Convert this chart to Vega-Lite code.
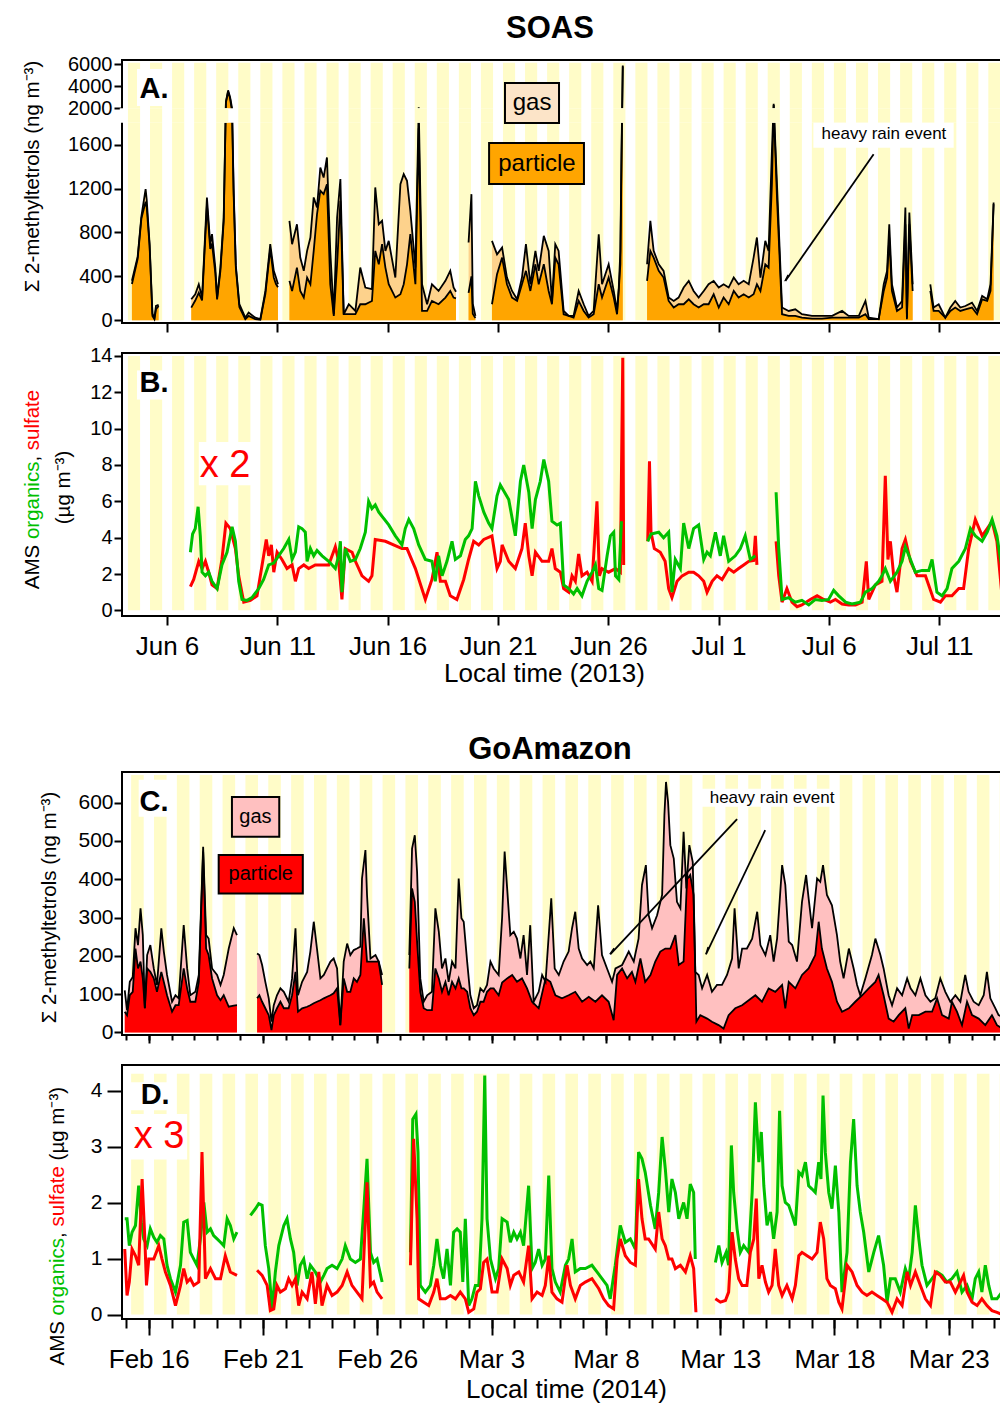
{
"$schema": "https://vega.github.io/schema/vega-lite/v6.json",
"background": "white",
"padding": {"left": 20, "top": 12, "right": 0, "bottom": 0},
"config": {
  "font": "Liberation Sans",
  "view": {"stroke": "black", "strokeWidth": 2},
  "axis": {"domain": false, "grid": false, "tickColor": "black", "tickWidth": 2, "labelColor": "black", "titleColor": "black", "titleFontWeight": "normal", "labelFont": "Liberation Sans", "titleFont": "Liberation Sans"},
  "title": {"font": "Liberation Sans", "fontWeight": "bold", "fontSize": 31, "color": "black"}
},
"datasets": {
"soasDays": [{"rise":-1.77,"set":-1.22},{"rise":-0.77,"set":-0.22},{"rise":0.23,"set":0.78},{"rise":1.23,"set":1.78},{"rise":2.23,"set":2.78},{"rise":3.23,"set":3.78},{"rise":4.23,"set":4.78},{"rise":5.23,"set":5.78},{"rise":6.23,"set":6.78},{"rise":7.23,"set":7.78},{"rise":8.23,"set":8.78},{"rise":9.23,"set":9.78},{"rise":10.23,"set":10.78},{"rise":11.23,"set":11.78},{"rise":12.23,"set":12.78},{"rise":13.23,"set":13.78},{"rise":14.23,"set":14.78},{"rise":15.23,"set":15.78},{"rise":16.23,"set":16.78},{"rise":17.23,"set":17.78},{"rise":18.23,"set":18.78},{"rise":19.23,"set":19.78},{"rise":20.23,"set":20.78},{"rise":21.23,"set":21.78},{"rise":22.23,"set":22.78},{"rise":23.23,"set":23.78},{"rise":24.23,"set":24.78},{"rise":25.23,"set":25.78},{"rise":26.23,"set":26.78},{"rise":27.23,"set":27.78},{"rise":28.23,"set":28.78},{"rise":29.23,"set":29.78},{"rise":30.23,"set":30.78},{"rise":31.23,"set":31.78},{"rise":32.23,"set":32.78},{"rise":33.23,"set":33.78},{"rise":34.23,"set":34.78},{"rise":35.23,"set":35.78},{"rise":36.23,"set":36.78},{"rise":37.23,"set":37.78}],
"goaDays": [{"rise":-0.77,"set":-0.22},{"rise":0.23,"set":0.78},{"rise":1.23,"set":1.78},{"rise":2.23,"set":2.78},{"rise":3.23,"set":3.78},{"rise":4.23,"set":4.78},{"rise":5.23,"set":5.78},{"rise":6.23,"set":6.78},{"rise":7.23,"set":7.78},{"rise":8.23,"set":8.78},{"rise":9.23,"set":9.78},{"rise":10.23,"set":10.78},{"rise":11.23,"set":11.78},{"rise":12.23,"set":12.78},{"rise":13.23,"set":13.78},{"rise":14.23,"set":14.78},{"rise":15.23,"set":15.78},{"rise":16.23,"set":16.78},{"rise":17.23,"set":17.78},{"rise":18.23,"set":18.78},{"rise":19.23,"set":19.78},{"rise":20.23,"set":20.78},{"rise":21.23,"set":21.78},{"rise":22.23,"set":22.78},{"rise":23.23,"set":23.78},{"rise":24.23,"set":24.78},{"rise":25.23,"set":25.78},{"rise":26.23,"set":26.78},{"rise":27.23,"set":27.78},{"rise":28.23,"set":28.78},{"rise":29.23,"set":29.78},{"rise":30.23,"set":30.78},{"rise":31.23,"set":31.78},{"rise":32.23,"set":32.78},{"rise":33.23,"set":33.78},{"rise":34.23,"set":34.78},{"rise":35.23,"set":35.78},{"rise":36.23,"set":36.78},{"rise":37.23,"set":37.78}],
"soasTetrols": [
{"day":-1.59,"total":360,"particle":330,"seg":1},{"day":-1.33,"total":580,"particle":560,"seg":1},{"day":-1.16,"total":950,"particle":930,"seg":1},{"day":-0.97,"total":1195,"particle":1080,"seg":1},{"day":-0.92,"total":1100,"particle":1030,"seg":1},{"day":-0.79,"total":700,"particle":680,"seg":1},{"day":-0.66,"total":60,"particle":40,"seg":1},{"day":-0.57,"total":20,"particle":10,"seg":1},{"day":-0.5,"total":130,"particle":100,"seg":1},{"day":-0.38,"total":140,"particle":130,"seg":1},
{"day":1.1,"total":191,"particle":115,"seg":2},{"day":1.28,"total":237,"particle":180,"seg":2},{"day":1.44,"total":328,"particle":250,"seg":2},{"day":1.59,"total":207,"particle":180,"seg":2},{"day":1.81,"total":1119,"particle":1050,"seg":2},{"day":1.96,"total":693,"particle":650,"seg":2},{"day":2.04,"total":784,"particle":700,"seg":2},{"day":2.19,"total":480,"particle":430,"seg":2},{"day":2.27,"total":207,"particle":190,"seg":2},{"day":2.42,"total":480,"particle":450,"seg":2},{"day":2.57,"total":936,"particle":900,"seg":2},{"day":2.67,"total":2600,"particle":2500,"seg":2},{"day":2.77,"total":3636,"particle":3500,"seg":2},{"day":2.86,"total":3000,"particle":2900,"seg":2},{"day":2.95,"total":2000,"particle":1950,"seg":2},{"day":3.02,"total":1200,"particle":1150,"seg":2},{"day":3.12,"total":500,"particle":480,"seg":2},{"day":3.28,"total":146,"particle":120,"seg":2},{"day":3.55,"total":24,"particle":10,"seg":2},{"day":3.7,"total":70,"particle":40,"seg":2},{"day":4.0,"total":24,"particle":10,"seg":2},{"day":4.23,"total":10,"particle":5,"seg":2},{"day":4.46,"total":267,"particle":240,"seg":2},{"day":4.68,"total":693,"particle":650,"seg":2},{"day":4.84,"total":450,"particle":390,"seg":2},{"day":4.94,"total":390,"particle":330,"seg":2},{"day":5.03,"total":328,"particle":300,"seg":2},
{"day":5.55,"total":906,"particle":359,"seg":3},{"day":5.67,"total":693,"particle":267,"seg":3},{"day":5.89,"total":875,"particle":480,"seg":3},{"day":6.04,"total":571,"particle":267,"seg":3},{"day":6.2,"total":450,"particle":207,"seg":3},{"day":6.35,"total":632,"particle":389,"seg":3},{"day":6.5,"total":754,"particle":328,"seg":3},{"day":6.65,"total":1119,"particle":632,"seg":3},{"day":6.8,"total":1027,"particle":967,"seg":3},{"day":6.95,"total":1392,"particle":1180,"seg":3},{"day":7.1,"total":1300,"particle":1150,"seg":3},{"day":7.25,"total":1483,"particle":1240,"seg":3},{"day":7.4,"total":632,"particle":328,"seg":3},{"day":7.56,"total":55,"particle":40,"seg":3},{"day":7.71,"total":936,"particle":510,"seg":3},{"day":7.86,"total":1286,"particle":1088,"seg":3},{"day":8.01,"total":55,"particle":55,"seg":3},{"day":8.24,"total":146,"particle":55,"seg":3},{"day":8.54,"total":85,"particle":55,"seg":3},{"day":8.76,"total":480,"particle":146,"seg":3},{"day":8.99,"total":298,"particle":146,"seg":3},{"day":9.29,"total":283,"particle":176,"seg":3},{"day":9.44,"total":1210,"particle":632,"seg":3},{"day":9.6,"total":875,"particle":510,"seg":3},{"day":9.75,"total":906,"particle":693,"seg":3},{"day":9.9,"total":632,"particle":480,"seg":3},{"day":10.05,"total":723,"particle":328,"seg":3},{"day":10.35,"total":389,"particle":207,"seg":3},{"day":10.58,"total":1240,"particle":237,"seg":3},{"day":10.73,"total":1331,"particle":328,"seg":3},{"day":10.88,"total":1270,"particle":510,"seg":3},{"day":11.03,"total":997,"particle":784,"seg":3},{"day":11.26,"total":480,"particle":328,"seg":3},{"day":11.41,"total":2100,"particle":1750,"seg":3},{"day":11.56,"total":328,"particle":85,"seg":3},{"day":11.79,"total":146,"particle":85,"seg":3},{"day":12.01,"total":328,"particle":176,"seg":3},{"day":12.31,"total":267,"particle":146,"seg":3},{"day":12.62,"total":359,"particle":207,"seg":3},{"day":12.84,"total":450,"particle":267,"seg":3},{"day":12.99,"total":298,"particle":207,"seg":3},{"day":13.1,"total":260,"particle":200,"seg":3},
{"day":13.67,"total":708,"particle":250,"seg":4},{"day":13.8,"total":1149,"particle":400,"seg":4},{"day":13.86,"total":150,"particle":60,"seg":4},{"day":13.98,"total":40,"particle":20,"seg":4},
{"day":14.73,"total":723,"particle":146,"seg":5},{"day":14.96,"total":600,"particle":420,"seg":5},{"day":15.19,"total":662,"particle":571,"seg":5},{"day":15.41,"total":389,"particle":328,"seg":5},{"day":15.64,"total":267,"particle":207,"seg":5},{"day":15.87,"total":191,"particle":176,"seg":5},{"day":16.09,"total":389,"particle":328,"seg":5},{"day":16.27,"total":693,"particle":450,"seg":5},{"day":16.47,"total":328,"particle":267,"seg":5},{"day":16.7,"total":632,"particle":510,"seg":5},{"day":16.85,"total":450,"particle":328,"seg":5},{"day":17.08,"total":769,"particle":510,"seg":5},{"day":17.3,"total":632,"particle":267,"seg":5},{"day":17.45,"total":176,"particle":146,"seg":5},{"day":17.6,"total":693,"particle":571,"seg":5},{"day":17.75,"total":632,"particle":510,"seg":5},{"day":17.98,"total":85,"particle":55,"seg":5},{"day":18.21,"total":40,"particle":40,"seg":5},{"day":18.43,"total":40,"particle":24,"seg":5},{"day":18.66,"total":267,"particle":176,"seg":5},{"day":18.89,"total":146,"particle":85,"seg":5},{"day":19.11,"total":40,"particle":24,"seg":5},{"day":19.34,"total":85,"particle":55,"seg":5},{"day":19.57,"total":784,"particle":328,"seg":5},{"day":19.72,"total":328,"particle":207,"seg":5},{"day":20.02,"total":510,"particle":389,"seg":5},{"day":20.25,"total":267,"particle":207,"seg":5},{"day":20.4,"total":85,"particle":55,"seg":5},{"day":20.48,"total":300,"particle":280,"seg":5},{"day":20.55,"total":632,"particle":510,"seg":5},{"day":20.6,"total":1500,"particle":1400,"seg":5},{"day":20.66,"total":5900,"particle":5800,"seg":5},
{"day":21.76,"total":510,"particle":359,"seg":6},{"day":21.91,"total":906,"particle":632,"seg":6},{"day":22.06,"total":632,"particle":571,"seg":6},{"day":22.29,"total":510,"particle":450,"seg":6},{"day":22.51,"total":450,"particle":389,"seg":6},{"day":22.74,"total":207,"particle":176,"seg":6},{"day":22.97,"total":176,"particle":116,"seg":6},{"day":23.19,"total":207,"particle":146,"seg":6},{"day":23.42,"total":298,"particle":146,"seg":6},{"day":23.65,"total":359,"particle":191,"seg":6},{"day":23.87,"total":267,"particle":146,"seg":6},{"day":24.1,"total":207,"particle":116,"seg":6},{"day":24.33,"total":267,"particle":146,"seg":6},{"day":24.55,"total":328,"particle":146,"seg":6},{"day":24.78,"total":359,"particle":237,"seg":6},{"day":25.01,"total":298,"particle":116,"seg":6},{"day":25.23,"total":328,"particle":207,"seg":6},{"day":25.46,"total":298,"particle":146,"seg":6},{"day":25.69,"total":389,"particle":267,"seg":6},{"day":25.91,"total":328,"particle":207,"seg":6},{"day":26.14,"total":359,"particle":237,"seg":6},{"day":26.37,"total":328,"particle":207,"seg":6},{"day":26.59,"total":571,"particle":237,"seg":6},{"day":26.74,"total":754,"particle":328,"seg":6},{"day":26.9,"total":389,"particle":267,"seg":6},{"day":27.12,"total":723,"particle":510,"seg":6},{"day":27.27,"total":632,"particle":480,"seg":6},{"day":27.42,"total":1543,"particle":1240,"seg":6},{"day":27.5,"total":2400,"particle":2300,"seg":6},{"day":27.65,"total":1240,"particle":1119,"seg":6},{"day":27.88,"total":116,"particle":55,"seg":6},{"day":28.18,"total":85,"particle":40,"seg":6},{"day":28.48,"total":100,"particle":40,"seg":6},{"day":28.78,"total":55,"particle":24,"seg":6},{"day":29.24,"total":40,"particle":15,"seg":6},{"day":29.69,"total":40,"particle":15,"seg":6},{"day":30.15,"total":40,"particle":24,"seg":6},{"day":30.6,"total":85,"particle":24,"seg":6},{"day":30.9,"total":40,"particle":24,"seg":6},{"day":31.36,"total":40,"particle":24,"seg":6},{"day":31.66,"total":176,"particle":55,"seg":6},{"day":31.81,"total":24,"particle":10,"seg":6},{"day":32.26,"total":10,"particle":10,"seg":6},{"day":32.49,"total":328,"particle":267,"seg":6},{"day":32.64,"total":450,"particle":389,"seg":6},{"day":32.74,"total":875,"particle":754,"seg":6},{"day":32.86,"total":328,"particle":267,"seg":6},{"day":33.09,"total":116,"particle":85,"seg":6},{"day":33.32,"total":176,"particle":116,"seg":6},{"day":33.47,"total":1027,"particle":875,"seg":6},{"day":33.54,"total":24,"particle":10,"seg":6},{"day":33.65,"total":982,"particle":875,"seg":6},{"day":33.8,"total":328,"particle":267,"seg":6},
{"day":34.6,"total":328,"particle":267,"seg":7},{"day":34.75,"total":116,"particle":85,"seg":7},{"day":34.98,"total":146,"particle":85,"seg":7},{"day":35.28,"total":24,"particle":24,"seg":7},{"day":35.51,"total":116,"particle":85,"seg":7},{"day":35.73,"total":176,"particle":116,"seg":7},{"day":35.96,"total":116,"particle":85,"seg":7},{"day":36.19,"total":130,"particle":100,"seg":7},{"day":36.49,"total":161,"particle":116,"seg":7},{"day":36.72,"total":85,"particle":55,"seg":7},{"day":36.95,"total":222,"particle":191,"seg":7},{"day":37.18,"total":191,"particle":176,"seg":7},{"day":37.33,"total":328,"particle":267,"seg":7},{"day":37.47,"total":1073,"particle":1058,"seg":7}],
"soasOrganics": [
{"day":1.06,"conc":3.2,"seg":1},{"day":1.16,"conc":4.2,"seg":1},{"day":1.28,"conc":4.5,"seg":1},{"day":1.41,"conc":5.7,"seg":1},{"day":1.51,"conc":4.1,"seg":1},{"day":1.59,"conc":2.1,"seg":1},{"day":1.74,"conc":1.9,"seg":1},{"day":1.89,"conc":2.1,"seg":1},{"day":2.04,"conc":1.6,"seg":1},{"day":2.27,"conc":1.2,"seg":1},{"day":2.49,"conc":2.5,"seg":1},{"day":2.72,"conc":3.2,"seg":1},{"day":2.95,"conc":4.6,"seg":1},{"day":3.1,"conc":3.8,"seg":1},{"day":3.25,"conc":1.6,"seg":1},{"day":3.4,"conc":0.6,"seg":1},{"day":3.63,"conc":0.55,"seg":1},{"day":3.85,"conc":0.7,"seg":1},{"day":4.16,"conc":1.2,"seg":1},{"day":4.38,"conc":1.7,"seg":1},{"day":4.61,"conc":2.5,"seg":1},{"day":4.84,"conc":2.6,"seg":1},{"day":5.06,"conc":3.0,"seg":1},{"day":5.29,"conc":3.4,"seg":1},{"day":5.52,"conc":3.9,"seg":1},{"day":5.67,"conc":2.8,"seg":1},{"day":5.82,"conc":3.2,"seg":1},{"day":5.97,"conc":4.6,"seg":1},{"day":6.12,"conc":4.5,"seg":1},{"day":6.27,"conc":4.3,"seg":1},{"day":6.35,"conc":2.7,"seg":1},{"day":6.5,"conc":3.4,"seg":1},{"day":6.65,"conc":3.0,"seg":1},{"day":6.8,"conc":3.3,"seg":1},{"day":7.03,"conc":3.0,"seg":1},{"day":7.33,"conc":2.7,"seg":1},{"day":7.63,"conc":2.3,"seg":1},{"day":7.78,"conc":3.0,"seg":1},{"day":7.86,"conc":3.8,"seg":1},{"day":7.93,"conc":1.0,"seg":1},{"day":8.08,"conc":3.4,"seg":1},{"day":8.31,"conc":2.7,"seg":1},{"day":8.54,"conc":2.8,"seg":1},{"day":8.76,"conc":3.4,"seg":1},{"day":8.99,"conc":4.3,"seg":1},{"day":9.14,"conc":6.0,"seg":1},{"day":9.29,"conc":5.6,"seg":1},{"day":9.44,"conc":5.8,"seg":1},{"day":9.6,"conc":5.4,"seg":1},{"day":10.05,"conc":4.7,"seg":1},{"day":10.35,"conc":4.1,"seg":1},{"day":10.65,"conc":3.6,"seg":1},{"day":10.8,"conc":4.5,"seg":1},{"day":10.96,"conc":5.0,"seg":1},{"day":11.18,"conc":4.5,"seg":1},{"day":11.41,"conc":3.6,"seg":1},{"day":11.71,"conc":2.8,"seg":1},{"day":12.01,"conc":2.7,"seg":1},{"day":12.16,"conc":1.6,"seg":1},{"day":12.31,"conc":3.0,"seg":1},{"day":12.47,"conc":1.9,"seg":1},{"day":12.69,"conc":2.7,"seg":1},{"day":12.92,"conc":3.8,"seg":1},{"day":13.07,"conc":2.8,"seg":1},{"day":13.3,"conc":3.0,"seg":1},{"day":13.52,"conc":3.9,"seg":1},{"day":13.67,"conc":4.1,"seg":1},{"day":13.83,"conc":4.5,"seg":1},{"day":13.98,"conc":7.1,"seg":1},{"day":14.13,"conc":6.3,"seg":1},{"day":14.36,"conc":5.4,"seg":1},{"day":14.58,"conc":4.8,"seg":1},{"day":14.73,"conc":4.5,"seg":1},{"day":14.96,"conc":6.3,"seg":1},{"day":15.11,"conc":6.9,"seg":1},{"day":15.49,"conc":6.1,"seg":1},{"day":15.79,"conc":4.1,"seg":1},{"day":16.02,"conc":7.1,"seg":1},{"day":16.17,"conc":8.0,"seg":1},{"day":16.4,"conc":6.5,"seg":1},{"day":16.55,"conc":4.5,"seg":1},{"day":16.7,"conc":6.1,"seg":1},{"day":16.92,"conc":7.1,"seg":1},{"day":17.08,"conc":8.3,"seg":1},{"day":17.3,"conc":7.1,"seg":1},{"day":17.45,"conc":4.9,"seg":1},{"day":17.68,"conc":4.7,"seg":1},{"day":17.83,"conc":4.8,"seg":1},{"day":17.98,"conc":1.4,"seg":1},{"day":18.21,"conc":1.2,"seg":1},{"day":18.43,"conc":0.9,"seg":1},{"day":18.59,"conc":1.2,"seg":1},{"day":18.81,"conc":0.8,"seg":1},{"day":19.04,"conc":1.6,"seg":1},{"day":19.27,"conc":2.1,"seg":1},{"day":19.42,"conc":2.5,"seg":1},{"day":19.57,"conc":1.2,"seg":1},{"day":19.72,"conc":1.1,"seg":1},{"day":19.95,"conc":3.0,"seg":1},{"day":20.1,"conc":4.1,"seg":1},{"day":20.25,"conc":4.3,"seg":1},{"day":20.33,"conc":1.9,"seg":1},{"day":20.48,"conc":1.7,"seg":1},{"day":20.6,"conc":4.9,"seg":1},
{"day":21.79,"conc":3.8,"seg":2},{"day":21.94,"conc":4.2,"seg":2},{"day":22.29,"conc":4.3,"seg":2},{"day":22.51,"conc":4.0,"seg":2},{"day":22.74,"conc":4.3,"seg":2},{"day":22.89,"conc":1.0,"seg":2},{"day":23.04,"conc":2.8,"seg":2},{"day":23.27,"conc":2.3,"seg":2},{"day":23.42,"conc":4.8,"seg":2},{"day":23.65,"conc":3.4,"seg":2},{"day":23.87,"conc":4.5,"seg":2},{"day":24.1,"conc":4.7,"seg":2},{"day":24.33,"conc":2.8,"seg":2},{"day":24.48,"conc":3.2,"seg":2},{"day":24.63,"conc":3.0,"seg":2},{"day":24.86,"conc":4.3,"seg":2},{"day":25.08,"conc":3.0,"seg":2},{"day":25.23,"conc":4.1,"seg":2},{"day":25.46,"conc":2.7,"seg":2},{"day":25.76,"conc":3.0,"seg":2},{"day":25.99,"conc":3.4,"seg":2},{"day":26.21,"conc":4.1,"seg":2},{"day":26.44,"conc":2.8,"seg":2},{"day":26.67,"conc":3.0,"seg":2},
{"day":27.61,"conc":6.5,"seg":3},{"day":27.73,"conc":3.4,"seg":3},{"day":27.88,"conc":0.6,"seg":3},{"day":28.18,"conc":0.7,"seg":3},{"day":28.48,"conc":0.45,"seg":3},{"day":28.78,"conc":0.55,"seg":3},{"day":29.09,"conc":0.3,"seg":3},{"day":29.39,"conc":0.6,"seg":3},{"day":29.69,"conc":0.55,"seg":3},{"day":29.99,"conc":0.6,"seg":3},{"day":30.22,"conc":1.1,"seg":3},{"day":30.45,"conc":0.8,"seg":3},{"day":30.76,"conc":0.45,"seg":3},{"day":31.05,"conc":0.35,"seg":3},{"day":31.43,"conc":0.45,"seg":3},{"day":31.66,"conc":1.0,"seg":3},{"day":31.96,"conc":1.2,"seg":3},{"day":32.26,"conc":1.6,"seg":3},{"day":32.41,"conc":1.9,"seg":3},{"day":32.56,"conc":2.3,"seg":3},{"day":32.79,"conc":1.6,"seg":3},{"day":33.09,"conc":2.1,"seg":3},{"day":33.32,"conc":2.7,"seg":3},{"day":33.47,"conc":3.5,"seg":3},{"day":33.7,"conc":2.8,"seg":3},{"day":33.92,"conc":2.1,"seg":3},{"day":34.23,"conc":2.2,"seg":3},{"day":34.53,"conc":2.2,"seg":3},{"day":34.68,"conc":2.8,"seg":3},{"day":34.9,"conc":1.0,"seg":3},{"day":35.13,"conc":0.8,"seg":3},{"day":35.36,"conc":1.2,"seg":3},{"day":35.58,"conc":2.3,"seg":3},{"day":35.89,"conc":2.7,"seg":3},{"day":36.19,"conc":3.4,"seg":3},{"day":36.42,"conc":4.5,"seg":3},{"day":36.64,"conc":4.1,"seg":3},{"day":36.95,"conc":3.8,"seg":3},{"day":37.18,"conc":4.3,"seg":3},{"day":37.4,"conc":5.0,"seg":3},{"day":37.62,"conc":4.1,"seg":3},{"day":37.85,"conc":2.3,"seg":3}],
"soasSulfate": [
{"day":1.06,"conc":1.3,"seg":1},{"day":1.21,"conc":1.7,"seg":1},{"day":1.44,"conc":2.7,"seg":1},{"day":1.59,"conc":2.3,"seg":1},{"day":1.74,"conc":2.7,"seg":1},{"day":1.89,"conc":2.1,"seg":1},{"day":2.04,"conc":1.4,"seg":1},{"day":2.27,"conc":1.2,"seg":1},{"day":2.49,"conc":2.8,"seg":1},{"day":2.67,"conc":4.8,"seg":1},{"day":2.87,"conc":4.5,"seg":1},{"day":3.1,"conc":3.4,"seg":1},{"day":3.25,"conc":1.9,"seg":1},{"day":3.48,"conc":0.45,"seg":1},{"day":3.78,"conc":0.55,"seg":1},{"day":4.08,"conc":0.8,"seg":1},{"day":4.38,"conc":3.0,"seg":1},{"day":4.5,"conc":3.9,"seg":1},{"day":4.61,"conc":3.0,"seg":1},{"day":4.73,"conc":3.6,"seg":1},{"day":4.84,"conc":2.1,"seg":1},{"day":4.99,"conc":3.2,"seg":1},{"day":5.21,"conc":2.8,"seg":1},{"day":5.44,"conc":2.3,"seg":1},{"day":5.67,"conc":2.5,"seg":1},{"day":5.82,"conc":1.6,"seg":1},{"day":5.97,"conc":2.3,"seg":1},{"day":6.2,"conc":2.5,"seg":1},{"day":6.42,"conc":2.3,"seg":1},{"day":6.72,"conc":2.5,"seg":1},{"day":7.03,"conc":2.5,"seg":1},{"day":7.33,"conc":2.5,"seg":1},{"day":7.63,"conc":3.5,"seg":1},{"day":7.78,"conc":2.7,"seg":1},{"day":7.93,"conc":0.6,"seg":1},{"day":8.08,"conc":3.4,"seg":1},{"day":8.39,"conc":3.2,"seg":1},{"day":8.54,"conc":2.7,"seg":1},{"day":8.84,"conc":1.9,"seg":1},{"day":9.14,"conc":1.6,"seg":1},{"day":9.29,"conc":1.9,"seg":1},{"day":9.44,"conc":3.9,"seg":1},{"day":9.9,"conc":3.8,"seg":1},{"day":10.65,"conc":3.4,"seg":1},{"day":10.88,"conc":3.4,"seg":1},{"day":11.26,"conc":2.3,"seg":1},{"day":11.71,"conc":0.6,"seg":1},{"day":12.01,"conc":1.7,"seg":1},{"day":12.24,"conc":3.2,"seg":1},{"day":12.39,"conc":1.6,"seg":1},{"day":12.62,"conc":1.6,"seg":1},{"day":12.84,"conc":0.8,"seg":1},{"day":13.14,"conc":0.6,"seg":1},{"day":13.45,"conc":1.7,"seg":1},{"day":13.67,"conc":2.8,"seg":1},{"day":13.9,"conc":3.8,"seg":1},{"day":14.13,"conc":3.6,"seg":1},{"day":14.36,"conc":3.9,"seg":1},{"day":14.73,"conc":4.1,"seg":1},{"day":14.96,"conc":2.3,"seg":1},{"day":15.11,"conc":2.7,"seg":1},{"day":15.19,"conc":3.6,"seg":1},{"day":15.49,"conc":2.7,"seg":1},{"day":15.79,"conc":2.3,"seg":1},{"day":16.09,"conc":3.4,"seg":1},{"day":16.24,"conc":4.8,"seg":1},{"day":16.4,"conc":3.0,"seg":1},{"day":16.55,"conc":1.9,"seg":1},{"day":16.7,"conc":3.2,"seg":1},{"day":17.0,"conc":2.7,"seg":1},{"day":17.3,"conc":2.7,"seg":1},{"day":17.45,"conc":3.4,"seg":1},{"day":17.6,"conc":2.3,"seg":1},{"day":17.83,"conc":2.1,"seg":1},{"day":17.98,"conc":1.2,"seg":1},{"day":18.21,"conc":1.0,"seg":1},{"day":18.36,"conc":1.9,"seg":1},{"day":18.51,"conc":1.6,"seg":1},{"day":18.66,"conc":3.1,"seg":1},{"day":18.81,"conc":1.9,"seg":1},{"day":19.04,"conc":2.1,"seg":1},{"day":19.27,"conc":1.6,"seg":1},{"day":19.49,"conc":6.0,"seg":1},{"day":19.6,"conc":1.9,"seg":1},{"day":19.72,"conc":2.3,"seg":1},{"day":20.02,"conc":2.1,"seg":1},{"day":20.33,"conc":2.3,"seg":1},{"day":20.55,"conc":2.1,"seg":1},{"day":20.66,"conc":13.9,"seg":1},{"day":20.7,"conc":2.5,"seg":1},
{"day":21.79,"conc":3.8,"seg":2},{"day":21.87,"conc":8.2,"seg":2},{"day":21.94,"conc":4.3,"seg":2},{"day":22.09,"conc":3.4,"seg":2},{"day":22.36,"conc":3.2,"seg":2},{"day":22.58,"conc":2.7,"seg":2},{"day":22.74,"conc":1.2,"seg":2},{"day":22.89,"conc":0.7,"seg":2},{"day":23.12,"conc":1.6,"seg":2},{"day":23.35,"conc":1.9,"seg":2},{"day":23.65,"conc":2.1,"seg":2},{"day":23.87,"conc":2.1,"seg":2},{"day":24.1,"conc":1.9,"seg":2},{"day":24.33,"conc":1.6,"seg":2},{"day":24.48,"conc":1.0,"seg":2},{"day":24.71,"conc":1.6,"seg":2},{"day":24.93,"conc":1.9,"seg":2},{"day":25.16,"conc":1.7,"seg":2},{"day":25.46,"conc":2.3,"seg":2},{"day":25.69,"conc":2.1,"seg":2},{"day":25.91,"conc":2.3,"seg":2},{"day":26.14,"conc":2.5,"seg":2},{"day":26.37,"conc":2.7,"seg":2},{"day":26.59,"conc":2.75,"seg":2},{"day":26.67,"conc":4.1,"seg":2},{"day":26.74,"conc":2.5,"seg":2},
{"day":27.61,"conc":3.8,"seg":3},{"day":27.73,"conc":1.9,"seg":3},{"day":27.88,"conc":0.45,"seg":3},{"day":28.1,"conc":1.2,"seg":3},{"day":28.33,"conc":0.45,"seg":3},{"day":28.56,"conc":0.2,"seg":3},{"day":28.78,"conc":0.3,"seg":3},{"day":29.16,"conc":0.6,"seg":3},{"day":29.47,"conc":0.8,"seg":3},{"day":29.77,"conc":0.6,"seg":3},{"day":30.07,"conc":0.45,"seg":3},{"day":30.3,"conc":0.6,"seg":3},{"day":30.6,"conc":0.35,"seg":3},{"day":30.9,"conc":0.3,"seg":3},{"day":31.21,"conc":0.3,"seg":3},{"day":31.51,"conc":0.45,"seg":3},{"day":31.7,"conc":2.7,"seg":3},{"day":31.81,"conc":0.6,"seg":3},{"day":32.11,"conc":1.4,"seg":3},{"day":32.41,"conc":1.6,"seg":3},{"day":32.56,"conc":7.4,"seg":3},{"day":32.68,"conc":2.8,"seg":3},{"day":32.79,"conc":3.8,"seg":3},{"day":32.94,"conc":1.9,"seg":3},{"day":33.09,"conc":1.0,"seg":3},{"day":33.32,"conc":3.4,"seg":3},{"day":33.47,"conc":3.9,"seg":3},{"day":33.7,"conc":2.7,"seg":3},{"day":34.0,"conc":1.9,"seg":3},{"day":34.38,"conc":1.9,"seg":3},{"day":34.75,"conc":0.6,"seg":3},{"day":35.06,"conc":0.45,"seg":3},{"day":35.28,"conc":0.8,"seg":3},{"day":35.58,"conc":0.8,"seg":3},{"day":35.89,"conc":1.2,"seg":3},{"day":36.11,"conc":1.2,"seg":3},{"day":36.34,"conc":3.4,"seg":3},{"day":36.64,"conc":5.0,"seg":3},{"day":36.95,"conc":4.1,"seg":3},{"day":37.18,"conc":4.5,"seg":3},{"day":37.4,"conc":4.9,"seg":3},{"day":37.62,"conc":3.8,"seg":3},{"day":37.85,"conc":0.8,"seg":3}],
"goaTotal": [
{"day":-1.05,"conc":110,"seg":1},{"day":-0.95,"conc":58,"seg":1},{"day":-0.83,"conc":132,"seg":1},{"day":-0.7,"conc":145,"seg":1},{"day":-0.58,"conc":272,"seg":1},{"day":-0.47,"conc":228,"seg":1},{"day":-0.36,"conc":324,"seg":1},{"day":-0.26,"conc":254,"seg":1},{"day":-0.17,"conc":63,"seg":1},{"day":-0.07,"conc":202,"seg":1},{"day":0.07,"conc":228,"seg":1},{"day":0.22,"conc":167,"seg":1},{"day":0.36,"conc":124,"seg":1},{"day":0.55,"conc":272,"seg":1},{"day":0.66,"conc":211,"seg":1},{"day":0.8,"conc":150,"seg":1},{"day":1.02,"conc":80,"seg":1},{"day":1.17,"conc":97,"seg":1},{"day":1.31,"conc":89,"seg":1},{"day":1.53,"conc":280,"seg":1},{"day":1.68,"conc":167,"seg":1},{"day":1.82,"conc":97,"seg":1},{"day":2.04,"conc":106,"seg":1},{"day":2.19,"conc":150,"seg":1},{"day":2.38,"conc":485,"seg":1},{"day":2.51,"conc":254,"seg":1},{"day":2.62,"conc":245,"seg":1},{"day":2.77,"conc":167,"seg":1},{"day":2.99,"conc":150,"seg":1},{"day":3.14,"conc":124,"seg":1},{"day":3.28,"conc":150,"seg":1},{"day":3.5,"conc":219,"seg":1},{"day":3.72,"conc":272,"seg":1},{"day":3.86,"conc":254,"seg":1},
{"day":4.74,"conc":206,"seg":2},{"day":4.84,"conc":202,"seg":2},{"day":4.96,"conc":176,"seg":2},{"day":5.1,"conc":132,"seg":2},{"day":5.25,"conc":89,"seg":2},{"day":5.37,"conc":28,"seg":2},{"day":5.47,"conc":71,"seg":2},{"day":5.61,"conc":97,"seg":2},{"day":5.76,"conc":115,"seg":2},{"day":5.91,"conc":106,"seg":2},{"day":6.12,"conc":80,"seg":2},{"day":6.27,"conc":141,"seg":2},{"day":6.42,"conc":272,"seg":2},{"day":6.53,"conc":97,"seg":2},{"day":6.71,"conc":132,"seg":2},{"day":6.93,"conc":158,"seg":2},{"day":7.07,"conc":211,"seg":2},{"day":7.22,"conc":289,"seg":2},{"day":7.36,"conc":219,"seg":2},{"day":7.51,"conc":141,"seg":2},{"day":7.66,"conc":150,"seg":2},{"day":7.8,"conc":167,"seg":2},{"day":7.95,"conc":185,"seg":2},{"day":8.09,"conc":193,"seg":2},{"day":8.24,"conc":167,"seg":2},{"day":8.38,"conc":19,"seg":2},{"day":8.53,"conc":185,"seg":2},{"day":8.68,"conc":232,"seg":2},{"day":8.82,"conc":202,"seg":2},{"day":8.97,"conc":215,"seg":2},{"day":9.11,"conc":219,"seg":2},{"day":9.26,"conc":224,"seg":2},{"day":9.33,"conc":402,"seg":2},{"day":9.48,"conc":476,"seg":2},{"day":9.55,"conc":359,"seg":2},{"day":9.7,"conc":193,"seg":2},{"day":9.92,"conc":202,"seg":2},{"day":10.06,"conc":185,"seg":2},{"day":10.21,"conc":150,"seg":2},
{"day":11.4,"conc":202,"seg":3},{"day":11.52,"conc":480,"seg":3},{"day":11.64,"conc":515,"seg":3},{"day":11.74,"conc":419,"seg":3},{"day":11.88,"conc":141,"seg":3},{"day":12.03,"conc":80,"seg":3},{"day":12.18,"conc":97,"seg":3},{"day":12.39,"conc":106,"seg":3},{"day":12.54,"conc":324,"seg":3},{"day":12.69,"conc":263,"seg":3},{"day":12.83,"conc":167,"seg":3},{"day":12.98,"conc":193,"seg":3},{"day":13.12,"conc":132,"seg":3},{"day":13.27,"conc":185,"seg":3},{"day":13.42,"conc":167,"seg":3},{"day":13.56,"conc":402,"seg":3},{"day":13.68,"conc":298,"seg":3},{"day":13.78,"conc":289,"seg":3},{"day":13.93,"conc":185,"seg":3},{"day":14.07,"conc":97,"seg":3},{"day":14.22,"conc":63,"seg":3},{"day":14.36,"conc":71,"seg":3},{"day":14.51,"conc":115,"seg":3},{"day":14.65,"conc":106,"seg":3},{"day":14.8,"conc":124,"seg":3},{"day":14.95,"conc":185,"seg":3},{"day":15.09,"conc":167,"seg":3},{"day":15.31,"conc":150,"seg":3},{"day":15.46,"conc":300,"seg":3},{"day":15.57,"conc":472,"seg":3},{"day":15.68,"conc":376,"seg":3},{"day":15.82,"conc":254,"seg":3},{"day":15.97,"conc":263,"seg":3},{"day":16.11,"conc":245,"seg":3},{"day":16.26,"conc":193,"seg":3},{"day":16.4,"conc":254,"seg":3},{"day":16.55,"conc":150,"seg":3},{"day":16.69,"conc":280,"seg":3},{"day":16.84,"conc":80,"seg":3},{"day":17.06,"conc":106,"seg":3},{"day":17.21,"conc":150,"seg":3},{"day":17.36,"conc":132,"seg":3},{"day":17.61,"conc":350,"seg":3},{"day":17.76,"conc":167,"seg":3},{"day":17.94,"conc":150,"seg":3},{"day":18.15,"conc":185,"seg":3},{"day":18.37,"conc":211,"seg":3},{"day":18.52,"conc":272,"seg":3},{"day":18.66,"conc":315,"seg":3},{"day":18.81,"conc":219,"seg":3},{"day":18.96,"conc":193,"seg":3},{"day":19.18,"conc":176,"seg":3},{"day":19.32,"conc":185,"seg":3},{"day":19.47,"conc":167,"seg":3},{"day":19.66,"conc":332,"seg":3},{"day":19.83,"conc":202,"seg":3},{"day":20.05,"conc":167,"seg":3},{"day":20.27,"conc":132,"seg":3},{"day":20.42,"conc":167,"seg":3},{"day":20.71,"conc":176,"seg":3},{"day":21.0,"conc":211,"seg":3},{"day":21.22,"conc":185,"seg":3},{"day":21.43,"conc":245,"seg":3},{"day":21.58,"conc":385,"seg":3},{"day":21.75,"conc":437,"seg":3},{"day":21.87,"conc":306,"seg":3},{"day":22.02,"conc":272,"seg":3},{"day":22.24,"conc":306,"seg":3},{"day":22.46,"conc":359,"seg":3},{"day":22.56,"conc":567,"seg":3},{"day":22.63,"conc":654,"seg":3},{"day":22.72,"conc":602,"seg":3},{"day":22.82,"conc":489,"seg":3},{"day":22.97,"conc":454,"seg":3},{"day":23.11,"conc":341,"seg":3},{"day":23.26,"conc":324,"seg":3},{"day":23.4,"conc":524,"seg":3},{"day":23.52,"conc":376,"seg":3},{"day":23.65,"conc":489,"seg":3},{"day":23.8,"conc":445,"seg":3},{"day":23.91,"conc":158,"seg":3},{"day":24.06,"conc":150,"seg":3},{"day":24.21,"conc":115,"seg":3},{"day":24.43,"conc":150,"seg":3},{"day":24.64,"conc":106,"seg":3},{"day":24.86,"conc":124,"seg":3},{"day":25.08,"conc":124,"seg":3},{"day":25.3,"conc":150,"seg":3},{"day":25.52,"conc":193,"seg":3},{"day":25.63,"conc":324,"seg":3},{"day":25.81,"conc":167,"seg":3},{"day":25.96,"conc":219,"seg":3},{"day":26.17,"conc":219,"seg":3},{"day":26.4,"conc":245,"seg":3},{"day":26.62,"conc":315,"seg":3},{"day":26.76,"conc":228,"seg":3},{"day":26.98,"conc":202,"seg":3},{"day":27.19,"conc":254,"seg":3},{"day":27.34,"conc":185,"seg":3},{"day":27.49,"conc":245,"seg":3},{"day":27.71,"conc":437,"seg":3},{"day":27.85,"conc":385,"seg":3},{"day":28.0,"conc":237,"seg":3},{"day":28.15,"conc":228,"seg":3},{"day":28.36,"conc":185,"seg":3},{"day":28.58,"conc":341,"seg":3},{"day":28.76,"conc":411,"seg":3},{"day":28.87,"conc":350,"seg":3},{"day":29.02,"conc":272,"seg":3},{"day":29.24,"conc":402,"seg":3},{"day":29.38,"conc":393,"seg":3},{"day":29.5,"conc":437,"seg":3},{"day":29.67,"conc":359,"seg":3},{"day":29.89,"conc":332,"seg":3},{"day":30.11,"conc":254,"seg":3},{"day":30.25,"conc":185,"seg":3},{"day":30.4,"conc":141,"seg":3},{"day":30.63,"conc":219,"seg":3},{"day":30.84,"conc":167,"seg":3},{"day":30.99,"conc":124,"seg":3},{"day":31.13,"conc":97,"seg":3},{"day":31.35,"conc":141,"seg":3},{"day":31.64,"conc":202,"seg":3},{"day":31.79,"conc":245,"seg":3},{"day":32.01,"conc":202,"seg":3},{"day":32.15,"conc":167,"seg":3},{"day":32.37,"conc":97,"seg":3},{"day":32.52,"conc":71,"seg":3},{"day":32.74,"conc":115,"seg":3},{"day":32.96,"conc":97,"seg":3},{"day":33.18,"conc":141,"seg":3},{"day":33.33,"conc":115,"seg":3},{"day":33.54,"conc":97,"seg":3},{"day":33.76,"conc":141,"seg":3},{"day":33.98,"conc":97,"seg":3},{"day":34.2,"conc":80,"seg":3},{"day":34.41,"conc":89,"seg":3},{"day":34.63,"conc":141,"seg":3},{"day":34.85,"conc":106,"seg":3},{"day":35.07,"conc":80,"seg":3},{"day":35.29,"conc":97,"seg":3},{"day":35.51,"conc":80,"seg":3},{"day":35.72,"conc":150,"seg":3},{"day":35.87,"conc":106,"seg":3},{"day":36.09,"conc":80,"seg":3},{"day":36.31,"conc":71,"seg":3},{"day":36.53,"conc":97,"seg":3},{"day":36.67,"conc":158,"seg":3},{"day":36.82,"conc":89,"seg":3},{"day":37.04,"conc":63,"seg":3},{"day":37.18,"conc":45,"seg":3},{"day":37.33,"conc":41,"seg":3}],
"goaParticle": [
{"day":-1.05,"conc":54,"seg":1},{"day":-0.95,"conc":45,"seg":1},{"day":-0.83,"conc":97,"seg":1},{"day":-0.7,"conc":106,"seg":1},{"day":-0.58,"conc":219,"seg":1},{"day":-0.47,"conc":167,"seg":1},{"day":-0.36,"conc":185,"seg":1},{"day":-0.26,"conc":141,"seg":1},{"day":-0.17,"conc":63,"seg":1},{"day":-0.07,"conc":167,"seg":1},{"day":0.07,"conc":158,"seg":1},{"day":0.22,"conc":141,"seg":1},{"day":0.36,"conc":106,"seg":1},{"day":0.55,"conc":158,"seg":1},{"day":0.66,"conc":132,"seg":1},{"day":0.8,"conc":97,"seg":1},{"day":1.02,"conc":54,"seg":1},{"day":1.17,"conc":71,"seg":1},{"day":1.31,"conc":71,"seg":1},{"day":1.53,"conc":167,"seg":1},{"day":1.68,"conc":115,"seg":1},{"day":1.82,"conc":80,"seg":1},{"day":2.04,"conc":80,"seg":1},{"day":2.19,"conc":132,"seg":1},{"day":2.38,"conc":472,"seg":1},{"day":2.51,"conc":219,"seg":1},{"day":2.62,"conc":202,"seg":1},{"day":2.77,"conc":141,"seg":1},{"day":2.99,"conc":97,"seg":1},{"day":3.14,"conc":84,"seg":1},{"day":3.28,"conc":97,"seg":1},{"day":3.5,"conc":67,"seg":1},{"day":3.72,"conc":70,"seg":1},{"day":3.86,"conc":71,"seg":1},
{"day":4.74,"conc":89,"seg":2},{"day":4.84,"conc":97,"seg":2},{"day":4.96,"conc":80,"seg":2},{"day":5.1,"conc":63,"seg":2},{"day":5.25,"conc":45,"seg":2},{"day":5.37,"conc":6,"seg":2},{"day":5.47,"conc":45,"seg":2},{"day":5.61,"conc":63,"seg":2},{"day":5.76,"conc":80,"seg":2},{"day":5.91,"conc":63,"seg":2},{"day":6.12,"conc":63,"seg":2},{"day":6.27,"conc":97,"seg":2},{"day":6.42,"conc":158,"seg":2},{"day":6.53,"conc":54,"seg":2},{"day":6.71,"conc":63,"seg":2},{"day":6.93,"conc":67,"seg":2},{"day":7.07,"conc":71,"seg":2},{"day":7.22,"conc":76,"seg":2},{"day":7.36,"conc":80,"seg":2},{"day":7.51,"conc":84,"seg":2},{"day":7.66,"conc":89,"seg":2},{"day":7.8,"conc":93,"seg":2},{"day":7.95,"conc":97,"seg":2},{"day":8.09,"conc":102,"seg":2},{"day":8.24,"conc":115,"seg":2},{"day":8.38,"conc":19,"seg":2},{"day":8.53,"conc":141,"seg":2},{"day":8.68,"conc":106,"seg":2},{"day":8.82,"conc":106,"seg":2},{"day":8.97,"conc":141,"seg":2},{"day":9.11,"conc":132,"seg":2},{"day":9.26,"conc":150,"seg":2},{"day":9.41,"conc":298,"seg":2},{"day":9.55,"conc":185,"seg":2},{"day":9.7,"conc":185,"seg":2},{"day":9.92,"conc":185,"seg":2},{"day":10.06,"conc":185,"seg":2},{"day":10.21,"conc":124,"seg":2},
{"day":11.4,"conc":167,"seg":3},{"day":11.52,"conc":376,"seg":3},{"day":11.64,"conc":341,"seg":3},{"day":11.74,"conc":237,"seg":3},{"day":11.88,"conc":106,"seg":3},{"day":12.03,"conc":63,"seg":3},{"day":12.18,"conc":58,"seg":3},{"day":12.39,"conc":58,"seg":3},{"day":12.54,"conc":167,"seg":3},{"day":12.69,"conc":141,"seg":3},{"day":12.83,"conc":106,"seg":3},{"day":12.98,"conc":132,"seg":3},{"day":13.12,"conc":97,"seg":3},{"day":13.27,"conc":132,"seg":3},{"day":13.42,"conc":115,"seg":3},{"day":13.56,"conc":141,"seg":3},{"day":13.68,"conc":115,"seg":3},{"day":13.78,"conc":115,"seg":3},{"day":13.93,"conc":106,"seg":3},{"day":14.07,"conc":63,"seg":3},{"day":14.22,"conc":45,"seg":3},{"day":14.36,"conc":54,"seg":3},{"day":14.51,"conc":80,"seg":3},{"day":14.65,"conc":80,"seg":3},{"day":14.8,"conc":106,"seg":3},{"day":14.95,"conc":115,"seg":3},{"day":15.09,"conc":115,"seg":3},{"day":15.31,"conc":97,"seg":3},{"day":15.46,"conc":130,"seg":3},{"day":15.68,"conc":141,"seg":3},{"day":15.9,"conc":150,"seg":3},{"day":16.11,"conc":132,"seg":3},{"day":16.33,"conc":141,"seg":3},{"day":16.55,"conc":115,"seg":3},{"day":16.77,"conc":80,"seg":3},{"day":17.06,"conc":63,"seg":3},{"day":17.36,"conc":141,"seg":3},{"day":17.57,"conc":132,"seg":3},{"day":17.79,"conc":97,"seg":3},{"day":18.08,"conc":89,"seg":3},{"day":18.37,"conc":97,"seg":3},{"day":18.66,"conc":106,"seg":3},{"day":18.96,"conc":80,"seg":3},{"day":19.25,"conc":93,"seg":3},{"day":19.54,"conc":80,"seg":3},{"day":19.83,"conc":97,"seg":3},{"day":20.12,"conc":80,"seg":3},{"day":20.34,"conc":32,"seg":3},{"day":20.49,"conc":150,"seg":3},{"day":20.71,"conc":167,"seg":3},{"day":20.93,"conc":141,"seg":3},{"day":21.14,"conc":158,"seg":3},{"day":21.29,"conc":132,"seg":3},{"day":21.51,"conc":193,"seg":3},{"day":21.72,"conc":132,"seg":3},{"day":21.95,"conc":150,"seg":3},{"day":22.16,"conc":185,"seg":3},{"day":22.38,"conc":211,"seg":3},{"day":22.6,"conc":219,"seg":3},{"day":22.82,"conc":219,"seg":3},{"day":23.04,"conc":254,"seg":3},{"day":23.19,"conc":176,"seg":3},{"day":23.4,"conc":185,"seg":3},{"day":23.55,"conc":400,"seg":3},{"day":23.69,"conc":411,"seg":3},{"day":23.84,"conc":359,"seg":3},{"day":23.96,"conc":28,"seg":3},{"day":24.13,"conc":45,"seg":3},{"day":24.43,"conc":36,"seg":3},{"day":24.64,"conc":28,"seg":3},{"day":24.93,"conc":19,"seg":3},{"day":25.15,"conc":10,"seg":3},{"day":25.37,"conc":45,"seg":3},{"day":25.66,"conc":63,"seg":3},{"day":25.96,"conc":71,"seg":3},{"day":26.25,"conc":84,"seg":3},{"day":26.54,"conc":97,"seg":3},{"day":26.83,"conc":80,"seg":3},{"day":27.12,"conc":115,"seg":3},{"day":27.41,"conc":106,"seg":3},{"day":27.71,"conc":124,"seg":3},{"day":27.85,"conc":63,"seg":3},{"day":28.0,"conc":132,"seg":3},{"day":28.29,"conc":115,"seg":3},{"day":28.58,"conc":150,"seg":3},{"day":28.87,"conc":167,"seg":3},{"day":29.16,"conc":202,"seg":3},{"day":29.31,"conc":289,"seg":3},{"day":29.45,"conc":219,"seg":3},{"day":29.67,"conc":167,"seg":3},{"day":29.89,"conc":132,"seg":3},{"day":30.11,"conc":80,"seg":3},{"day":30.33,"conc":54,"seg":3},{"day":30.63,"conc":63,"seg":3},{"day":30.91,"conc":80,"seg":3},{"day":31.21,"conc":97,"seg":3},{"day":31.5,"conc":115,"seg":3},{"day":31.79,"conc":132,"seg":3},{"day":31.93,"conc":150,"seg":3},{"day":32.15,"conc":97,"seg":3},{"day":32.37,"conc":36,"seg":3},{"day":32.59,"conc":28,"seg":3},{"day":32.81,"conc":45,"seg":3},{"day":33.1,"conc":63,"seg":3},{"day":33.25,"conc":10,"seg":3},{"day":33.4,"conc":45,"seg":3},{"day":33.69,"conc":45,"seg":3},{"day":33.98,"conc":54,"seg":3},{"day":34.27,"conc":54,"seg":3},{"day":34.49,"conc":89,"seg":3},{"day":34.71,"conc":45,"seg":3},{"day":35.0,"conc":36,"seg":3},{"day":35.14,"conc":80,"seg":3},{"day":35.36,"conc":54,"seg":3},{"day":35.58,"conc":19,"seg":3},{"day":35.8,"conc":80,"seg":3},{"day":36.02,"conc":45,"seg":3},{"day":36.31,"conc":36,"seg":3},{"day":36.6,"conc":19,"seg":3},{"day":36.89,"conc":45,"seg":3},{"day":37.11,"conc":19,"seg":3},{"day":37.33,"conc":10,"seg":3}],
"goaOrganics": [
{"day":-1.05,"conc":1.71,"seg":1},{"day":-0.95,"conc":1.71,"seg":1},{"day":-0.85,"conc":1.23,"seg":1},{"day":-0.73,"conc":1.47,"seg":1},{"day":-0.58,"conc":1.59,"seg":1},{"day":-0.44,"conc":2.3,"seg":1},{"day":-0.32,"conc":1.65,"seg":1},{"day":-0.22,"conc":1.35,"seg":1},{"day":-0.07,"conc":1.23,"seg":1},{"day":0.07,"conc":1.53,"seg":1},{"day":0.22,"conc":1.38,"seg":1},{"day":0.36,"conc":1.29,"seg":1},{"day":0.51,"conc":1.41,"seg":1},{"day":0.66,"conc":1.35,"seg":1},{"day":0.8,"conc":0.88,"seg":1},{"day":0.95,"conc":0.64,"seg":1},{"day":1.17,"conc":0.4,"seg":1},{"day":1.39,"conc":0.88,"seg":1},{"day":1.53,"conc":1.65,"seg":1},{"day":1.68,"conc":1.68,"seg":1},{"day":1.82,"conc":1.11,"seg":1},{"day":1.97,"conc":0.99,"seg":1},{"day":2.11,"conc":0.88,"seg":1},{"day":2.26,"conc":1.35,"seg":1},{"day":2.41,"conc":2.0,"seg":1},{"day":2.55,"conc":1.47,"seg":1},{"day":2.7,"conc":1.53,"seg":1},{"day":2.84,"conc":1.41,"seg":1},{"day":2.99,"conc":1.35,"seg":1},{"day":3.14,"conc":1.29,"seg":1},{"day":3.28,"conc":1.23,"seg":1},{"day":3.43,"conc":1.71,"seg":1},{"day":3.57,"conc":1.59,"seg":1},{"day":3.72,"conc":1.35,"seg":1},{"day":3.86,"conc":1.47,"seg":1},
{"day":4.45,"conc":1.77,"seg":2},{"day":4.67,"conc":1.89,"seg":2},{"day":4.81,"conc":1.98,"seg":2},{"day":4.96,"conc":1.95,"seg":2},{"day":5.1,"conc":1.23,"seg":2},{"day":5.25,"conc":0.82,"seg":2},{"day":5.4,"conc":0.1,"seg":2},{"day":5.54,"conc":0.76,"seg":2},{"day":5.69,"conc":1.23,"seg":2},{"day":5.91,"conc":1.59,"seg":2},{"day":6.05,"conc":1.71,"seg":2},{"day":6.2,"conc":1.35,"seg":2},{"day":6.34,"conc":1.11,"seg":2},{"day":6.49,"conc":0.52,"seg":2},{"day":6.63,"conc":0.88,"seg":2},{"day":6.78,"conc":0.99,"seg":2},{"day":6.93,"conc":0.64,"seg":2},{"day":7.07,"conc":0.88,"seg":2},{"day":7.29,"conc":0.76,"seg":2},{"day":7.51,"conc":0.58,"seg":2},{"day":7.66,"conc":0.7,"seg":2},{"day":7.8,"conc":0.82,"seg":2},{"day":8.02,"conc":0.88,"seg":2},{"day":8.24,"conc":0.82,"seg":2},{"day":8.46,"conc":0.99,"seg":2},{"day":8.6,"conc":1.23,"seg":2},{"day":8.82,"conc":0.99,"seg":2},{"day":9.04,"conc":0.93,"seg":2},{"day":9.26,"conc":0.99,"seg":2},{"day":9.41,"conc":1.89,"seg":2},{"day":9.55,"conc":2.78,"seg":2},{"day":9.7,"conc":1.11,"seg":2},{"day":9.84,"conc":0.93,"seg":2},{"day":9.99,"conc":0.99,"seg":2},{"day":10.21,"conc":0.58,"seg":2},
{"day":11.45,"conc":1.11,"seg":3},{"day":11.55,"conc":3.49,"seg":3},{"day":11.69,"conc":3.58,"seg":3},{"day":11.78,"conc":2.9,"seg":3},{"day":11.88,"conc":0.52,"seg":3},{"day":12.1,"conc":0.4,"seg":3},{"day":12.32,"conc":0.52,"seg":3},{"day":12.47,"conc":0.88,"seg":3},{"day":12.61,"conc":1.35,"seg":3},{"day":12.76,"conc":0.88,"seg":3},{"day":12.9,"conc":0.64,"seg":3},{"day":13.05,"conc":1.17,"seg":3},{"day":13.2,"conc":0.52,"seg":3},{"day":13.34,"conc":1.47,"seg":3},{"day":13.49,"conc":1.53,"seg":3},{"day":13.63,"conc":1.47,"seg":3},{"day":13.74,"conc":0.58,"seg":3},{"day":13.85,"conc":1.71,"seg":3},{"day":14.0,"conc":0.16,"seg":3},{"day":14.14,"conc":0.28,"seg":3},{"day":14.29,"conc":0.52,"seg":3},{"day":14.44,"conc":0.52,"seg":3},{"day":14.58,"conc":1.71,"seg":3},{"day":14.7,"conc":4.27,"seg":3},{"day":14.8,"conc":1.71,"seg":3},{"day":14.95,"conc":0.99,"seg":3},{"day":15.17,"conc":0.64,"seg":3},{"day":15.31,"conc":0.82,"seg":3},{"day":15.46,"conc":1.71,"seg":3},{"day":15.68,"conc":1.65,"seg":3},{"day":15.82,"conc":1.29,"seg":3},{"day":15.97,"conc":1.47,"seg":3},{"day":16.11,"conc":1.35,"seg":3},{"day":16.26,"conc":1.47,"seg":3},{"day":16.4,"conc":1.23,"seg":3},{"day":16.62,"conc":2.3,"seg":3},{"day":16.77,"conc":0.82,"seg":3},{"day":16.91,"conc":0.93,"seg":3},{"day":17.06,"conc":1.17,"seg":3},{"day":17.21,"conc":0.88,"seg":3},{"day":17.35,"conc":0.99,"seg":3},{"day":17.5,"conc":2.48,"seg":3},{"day":17.64,"conc":0.82,"seg":3},{"day":17.79,"conc":0.58,"seg":3},{"day":18.0,"conc":0.4,"seg":3},{"day":18.23,"conc":0.88,"seg":3},{"day":18.37,"conc":0.99,"seg":3},{"day":18.52,"conc":1.35,"seg":3},{"day":18.66,"conc":0.76,"seg":3},{"day":18.88,"conc":0.82,"seg":3},{"day":19.1,"conc":0.82,"seg":3},{"day":19.39,"conc":0.88,"seg":3},{"day":19.61,"conc":0.76,"seg":3},{"day":19.83,"conc":0.64,"seg":3},{"day":20.05,"conc":0.52,"seg":3},{"day":20.19,"conc":0.28,"seg":3},{"day":20.41,"conc":0.88,"seg":3},{"day":20.63,"conc":1.59,"seg":3},{"day":20.85,"conc":1.29,"seg":3},{"day":21.07,"conc":1.35,"seg":3},{"day":21.29,"conc":1.17,"seg":3},{"day":21.43,"conc":2.9,"seg":3},{"day":21.58,"conc":2.78,"seg":3},{"day":21.72,"conc":2.54,"seg":3},{"day":21.95,"conc":1.95,"seg":3},{"day":22.16,"conc":1.53,"seg":3},{"day":22.31,"conc":2.18,"seg":3},{"day":22.46,"conc":3.17,"seg":3},{"day":22.6,"conc":2.6,"seg":3},{"day":22.75,"conc":1.83,"seg":3},{"day":22.89,"conc":2.42,"seg":3},{"day":23.04,"conc":2.18,"seg":3},{"day":23.19,"conc":1.71,"seg":3},{"day":23.4,"conc":2.0,"seg":3},{"day":23.55,"conc":1.71,"seg":3},{"day":23.69,"conc":2.33,"seg":3},{"day":23.84,"conc":2.18,"seg":3},{"day":23.91,"conc":0.99,"seg":3},
{"day":24.79,"conc":0.93,"seg":4},{"day":24.94,"conc":1.23,"seg":4},{"day":25.08,"conc":0.93,"seg":4},{"day":25.26,"conc":1.11,"seg":4},{"day":25.37,"conc":0.88,"seg":4},{"day":25.49,"conc":3.02,"seg":4},{"day":25.59,"conc":2.18,"seg":4},{"day":25.74,"conc":1.53,"seg":4},{"day":25.88,"conc":1.11,"seg":4},{"day":26.03,"conc":1.23,"seg":4},{"day":26.25,"conc":1.11,"seg":4},{"day":26.4,"conc":2.18,"seg":4},{"day":26.54,"conc":3.79,"seg":4},{"day":26.69,"conc":2.72,"seg":4},{"day":26.8,"conc":3.26,"seg":4},{"day":26.91,"conc":2.3,"seg":4},{"day":27.05,"conc":1.59,"seg":4},{"day":27.2,"conc":1.83,"seg":4},{"day":27.34,"conc":1.35,"seg":4},{"day":27.49,"conc":1.83,"seg":4},{"day":27.6,"conc":3.64,"seg":4},{"day":27.71,"conc":2.3,"seg":4},{"day":27.85,"conc":2.0,"seg":4},{"day":28.0,"conc":1.95,"seg":4},{"day":28.15,"conc":1.77,"seg":4},{"day":28.29,"conc":1.59,"seg":4},{"day":28.44,"conc":2.54,"seg":4},{"day":28.58,"conc":2.48,"seg":4},{"day":28.73,"conc":2.72,"seg":4},{"day":28.87,"conc":2.3,"seg":4},{"day":29.02,"conc":2.24,"seg":4},{"day":29.16,"conc":2.18,"seg":4},{"day":29.31,"conc":2.72,"seg":4},{"day":29.41,"conc":2.42,"seg":4},{"day":29.5,"conc":3.91,"seg":4},{"day":29.6,"conc":2.9,"seg":4},{"day":29.75,"conc":2.18,"seg":4},{"day":29.89,"conc":1.89,"seg":4},{"day":30.04,"conc":2.66,"seg":4},{"day":30.19,"conc":1.83,"seg":4},{"day":30.33,"conc":0.4,"seg":4},{"day":30.55,"conc":1.11,"seg":4},{"day":30.7,"conc":2.72,"seg":4},{"day":30.84,"conc":3.49,"seg":4},{"day":30.99,"conc":2.3,"seg":4},{"day":31.13,"conc":1.83,"seg":4},{"day":31.28,"conc":1.47,"seg":4},{"day":31.5,"conc":0.76,"seg":4},{"day":31.72,"conc":1.11,"seg":4},{"day":31.93,"conc":1.41,"seg":4},{"day":32.15,"conc":0.88,"seg":4},{"day":32.3,"conc":0.22,"seg":4},{"day":32.45,"conc":0.64,"seg":4},{"day":32.66,"conc":0.64,"seg":4},{"day":32.88,"conc":0.4,"seg":4},{"day":33.1,"conc":0.82,"seg":4},{"day":33.25,"conc":0.64,"seg":4},{"day":33.4,"conc":1.11,"seg":4},{"day":33.54,"conc":1.95,"seg":4},{"day":33.69,"conc":1.35,"seg":4},{"day":33.83,"conc":0.88,"seg":4},{"day":34.05,"conc":0.52,"seg":4},{"day":34.27,"conc":0.64,"seg":4},{"day":34.49,"conc":0.76,"seg":4},{"day":34.71,"conc":0.7,"seg":4},{"day":34.92,"conc":0.58,"seg":4},{"day":35.14,"conc":0.64,"seg":4},{"day":35.36,"conc":0.76,"seg":4},{"day":35.58,"conc":0.4,"seg":4},{"day":35.8,"conc":0.52,"seg":4},{"day":36.02,"conc":0.28,"seg":4},{"day":36.16,"conc":0.64,"seg":4},{"day":36.31,"conc":0.76,"seg":4},{"day":36.45,"conc":0.4,"seg":4},{"day":36.6,"conc":0.88,"seg":4},{"day":36.75,"conc":0.52,"seg":4},{"day":36.89,"conc":0.28,"seg":4},{"day":37.11,"conc":0.28,"seg":4},{"day":37.33,"conc":0.4,"seg":4}],
"goaSulfate": [
{"day":-1.05,"conc":1.17,"seg":1},{"day":-0.95,"conc":0.34,"seg":1},{"day":-0.85,"conc":0.58,"seg":1},{"day":-0.73,"conc":1.17,"seg":1},{"day":-0.58,"conc":1.05,"seg":1},{"day":-0.44,"conc":0.88,"seg":1},{"day":-0.29,"conc":2.42,"seg":1},{"day":-0.17,"conc":1.35,"seg":1},{"day":-0.1,"conc":0.52,"seg":1},{"day":0.0,"conc":0.99,"seg":1},{"day":0.22,"conc":0.99,"seg":1},{"day":0.44,"conc":1.23,"seg":1},{"day":0.58,"conc":0.99,"seg":1},{"day":0.73,"conc":0.76,"seg":1},{"day":0.95,"conc":0.52,"seg":1},{"day":1.17,"conc":0.16,"seg":1},{"day":1.39,"conc":0.52,"seg":1},{"day":1.53,"conc":0.82,"seg":1},{"day":1.68,"conc":0.58,"seg":1},{"day":1.82,"conc":0.64,"seg":1},{"day":1.97,"conc":0.52,"seg":1},{"day":2.19,"conc":0.58,"seg":1},{"day":2.33,"conc":2.9,"seg":1},{"day":2.48,"conc":0.64,"seg":1},{"day":2.7,"conc":0.82,"seg":1},{"day":2.92,"conc":0.64,"seg":1},{"day":3.14,"conc":0.64,"seg":1},{"day":3.35,"conc":1.05,"seg":1},{"day":3.57,"conc":0.76,"seg":1},{"day":3.86,"conc":0.7,"seg":1},
{"day":4.74,"conc":0.79,"seg":2},{"day":4.96,"conc":0.7,"seg":2},{"day":5.18,"conc":0.52,"seg":2},{"day":5.32,"conc":0.07,"seg":2},{"day":5.47,"conc":0.1,"seg":2},{"day":5.61,"conc":0.52,"seg":2},{"day":5.76,"conc":0.4,"seg":2},{"day":5.98,"conc":0.46,"seg":2},{"day":6.12,"conc":0.64,"seg":2},{"day":6.27,"conc":0.52,"seg":2},{"day":6.42,"conc":0.64,"seg":2},{"day":6.56,"conc":0.16,"seg":2},{"day":6.71,"conc":0.4,"seg":2},{"day":6.93,"conc":0.28,"seg":2},{"day":7.14,"conc":0.76,"seg":2},{"day":7.29,"conc":0.19,"seg":2},{"day":7.44,"conc":0.76,"seg":2},{"day":7.58,"conc":0.16,"seg":2},{"day":7.8,"conc":0.52,"seg":2},{"day":8.02,"conc":0.34,"seg":2},{"day":8.24,"conc":0.4,"seg":2},{"day":8.46,"conc":0.52,"seg":2},{"day":8.68,"conc":0.76,"seg":2},{"day":8.89,"conc":0.52,"seg":2},{"day":9.11,"conc":0.4,"seg":2},{"day":9.33,"conc":0.28,"seg":2},{"day":9.55,"conc":2.36,"seg":2},{"day":9.7,"conc":0.52,"seg":2},{"day":9.84,"conc":0.58,"seg":2},{"day":9.99,"conc":0.4,"seg":2},{"day":10.21,"conc":0.28,"seg":2},
{"day":11.45,"conc":0.88,"seg":3},{"day":11.59,"conc":3.14,"seg":3},{"day":11.74,"conc":1.71,"seg":3},{"day":11.81,"conc":0.28,"seg":3},{"day":12.03,"conc":0.22,"seg":3},{"day":12.25,"conc":0.16,"seg":3},{"day":12.47,"conc":0.4,"seg":3},{"day":12.61,"conc":0.64,"seg":3},{"day":12.76,"conc":0.28,"seg":3},{"day":12.98,"conc":0.28,"seg":3},{"day":13.2,"conc":0.34,"seg":3},{"day":13.42,"conc":0.28,"seg":3},{"day":13.63,"conc":0.4,"seg":3},{"day":13.85,"conc":0.28,"seg":3},{"day":14.0,"conc":0.04,"seg":3},{"day":14.22,"conc":0.1,"seg":3},{"day":14.36,"conc":0.4,"seg":3},{"day":14.51,"conc":0.46,"seg":3},{"day":14.65,"conc":0.93,"seg":3},{"day":14.8,"conc":0.99,"seg":3},{"day":15.02,"conc":0.4,"seg":3},{"day":15.24,"conc":0.4,"seg":3},{"day":15.46,"conc":0.99,"seg":3},{"day":15.68,"conc":0.82,"seg":3},{"day":15.82,"conc":0.52,"seg":3},{"day":15.97,"conc":0.7,"seg":3},{"day":16.19,"conc":0.76,"seg":3},{"day":16.4,"conc":0.58,"seg":3},{"day":16.62,"conc":1.23,"seg":3},{"day":16.77,"conc":0.28,"seg":3},{"day":16.99,"conc":0.4,"seg":3},{"day":17.21,"conc":0.34,"seg":3},{"day":17.35,"conc":0.52,"seg":3},{"day":17.5,"conc":1.05,"seg":3},{"day":17.64,"conc":0.4,"seg":3},{"day":17.86,"conc":0.28,"seg":3},{"day":18.08,"conc":0.22,"seg":3},{"day":18.3,"conc":0.88,"seg":3},{"day":18.45,"conc":0.52,"seg":3},{"day":18.66,"conc":0.28,"seg":3},{"day":18.88,"conc":0.52,"seg":3},{"day":19.1,"conc":0.58,"seg":3},{"day":19.39,"conc":0.64,"seg":3},{"day":19.69,"conc":0.46,"seg":3},{"day":19.9,"conc":0.28,"seg":3},{"day":20.12,"conc":0.16,"seg":3},{"day":20.34,"conc":0.1,"seg":3},{"day":20.49,"conc":0.99,"seg":3},{"day":20.63,"conc":1.35,"seg":3},{"day":20.85,"conc":1.05,"seg":3},{"day":21.07,"conc":0.93,"seg":3},{"day":21.29,"conc":0.88,"seg":3},{"day":21.43,"conc":2.42,"seg":3},{"day":21.58,"conc":1.71,"seg":3},{"day":21.72,"conc":1.35,"seg":3},{"day":21.87,"conc":1.35,"seg":3},{"day":22.16,"conc":1.17,"seg":3},{"day":22.31,"conc":1.83,"seg":3},{"day":22.46,"conc":1.35,"seg":3},{"day":22.6,"conc":1.23,"seg":3},{"day":22.75,"conc":0.99,"seg":3},{"day":22.89,"conc":0.99,"seg":3},{"day":23.04,"conc":0.82,"seg":3},{"day":23.26,"conc":0.88,"seg":3},{"day":23.48,"conc":0.76,"seg":3},{"day":23.69,"conc":1.05,"seg":3},{"day":23.84,"conc":0.82,"seg":3},{"day":23.94,"conc":0.04,"seg":3},
{"day":24.79,"conc":0.28,"seg":4},{"day":25.01,"conc":0.22,"seg":4},{"day":25.23,"conc":0.25,"seg":4},{"day":25.37,"conc":0.4,"seg":4},{"day":25.52,"conc":1.47,"seg":4},{"day":25.66,"conc":0.99,"seg":4},{"day":25.81,"conc":0.64,"seg":4},{"day":25.96,"conc":0.52,"seg":4},{"day":26.17,"conc":0.52,"seg":4},{"day":26.32,"conc":1.11,"seg":4},{"day":26.47,"conc":1.35,"seg":4},{"day":26.58,"conc":2.07,"seg":4},{"day":26.69,"conc":0.64,"seg":4},{"day":26.83,"conc":0.88,"seg":4},{"day":26.98,"conc":0.58,"seg":4},{"day":27.12,"conc":0.4,"seg":4},{"day":27.27,"conc":0.52,"seg":4},{"day":27.41,"conc":1.17,"seg":4},{"day":27.56,"conc":0.52,"seg":4},{"day":27.71,"conc":0.34,"seg":4},{"day":27.92,"conc":0.52,"seg":4},{"day":28.15,"conc":0.28,"seg":4},{"day":28.29,"conc":0.52,"seg":4},{"day":28.44,"conc":1.05,"seg":4},{"day":28.58,"conc":1.11,"seg":4},{"day":28.8,"conc":1.05,"seg":4},{"day":29.02,"conc":0.99,"seg":4},{"day":29.24,"conc":1.11,"seg":4},{"day":29.38,"conc":1.65,"seg":4},{"day":29.53,"conc":1.35,"seg":4},{"day":29.67,"conc":0.64,"seg":4},{"day":29.82,"conc":0.52,"seg":4},{"day":30.04,"conc":0.46,"seg":4},{"day":30.19,"conc":0.22,"seg":4},{"day":30.33,"conc":0.1,"seg":4},{"day":30.55,"conc":0.88,"seg":4},{"day":30.77,"conc":0.76,"seg":4},{"day":30.99,"conc":0.52,"seg":4},{"day":31.21,"conc":0.4,"seg":4},{"day":31.42,"conc":0.34,"seg":4},{"day":31.64,"conc":0.4,"seg":4},{"day":31.86,"conc":0.34,"seg":4},{"day":32.08,"conc":0.28,"seg":4},{"day":32.3,"conc":0.22,"seg":4},{"day":32.52,"conc":0.04,"seg":4},{"day":32.74,"conc":0.28,"seg":4},{"day":32.96,"conc":0.16,"seg":4},{"day":33.18,"conc":0.76,"seg":4},{"day":33.33,"conc":0.52,"seg":4},{"day":33.54,"conc":0.76,"seg":4},{"day":33.76,"conc":0.52,"seg":4},{"day":33.98,"conc":0.28,"seg":4},{"day":34.2,"conc":0.16,"seg":4},{"day":34.41,"conc":0.76,"seg":4},{"day":34.63,"conc":0.7,"seg":4},{"day":34.85,"conc":0.58,"seg":4},{"day":35.07,"conc":0.58,"seg":4},{"day":35.29,"conc":0.4,"seg":4},{"day":35.51,"conc":0.58,"seg":4},{"day":35.65,"conc":0.7,"seg":4},{"day":35.8,"conc":0.4,"seg":4},{"day":36.02,"conc":0.22,"seg":4},{"day":36.24,"conc":0.16,"seg":4},{"day":36.45,"conc":0.28,"seg":4},{"day":36.67,"conc":0.16,"seg":4},{"day":36.89,"conc":0.07,"seg":4},{"day":37.11,"conc":0.04,"seg":4},{"day":37.33,"conc":0.0,"seg":4}]
},
"vconcat": [
{
 "width": 880, "height": 263,
 "title": {"text": "SOAS", "fontSize": 31, "fontWeight": "bold", "offset": -15, "baseline": "alphabetic", "dx": -12, "anchor": "middle"},
 "resolve": {"axis": {"x": "independent", "y": "independent"}},
 "layer": [
  {"data": {"name": "soasDays"}, "mark": {"type": "rect", "color": "#FFFCC8", "clip": true},
   "encoding": {
    "x": {"field": "rise", "type": "quantitative", "scale": {"domain": [-2.04, 37.85], "nice": false, "zero": false}, "axis": {"orient": "bottom", "values": [0,5,10,15,20,25,30,35], "labels": false, "tickSize": 9, "tickWidth": 2, "title": null, "domain": false, "grid": false}},
    "x2": {"field": "set"},
    "y": {"datum": 0, "type": "quantitative", "scale": {"domain": [-25, 1800, 2000, 6390], "range": [263, 62.7, 48.3, 0], "nice": false, "zero": false}, "axis": {"orient": "left", "values": [0,400,800,1200,1600,2000,4000,6000], "format": "d", "labelFontSize": 20, "labelPadding": 2, "tickSize": 8, "tickWidth": 2, "labelOverlap": false, "domain": false, "grid": false, "title": "Σ 2-methyltetrols (ng m⁻³)", "titleFontSize": 20.5, "titleX": -84, "titleY": 116, "titleAngle": -90, "titleAlign": "center", "titleBaseline": "alphabetic"}},
    "y2": {"datum": 6150}
   }},
  {"data": {"name": "soasTetrols"}, "mark": {"type": "area", "color": "#FDD28C", "clip": true},
   "encoding": {"x": {"field": "day", "type": "quantitative", "scale": {"domain": [-2.04, 37.85], "nice": false, "zero": false}, "axis": null}, "y": {"field": "total", "type": "quantitative", "stack": null, "scale": {"domain": [-25, 1800, 2000, 6390], "range": [263, 62.7, 48.3, 0], "nice": false, "zero": false}, "axis": null}, "detail": {"field": "seg"}}},
  {"data": {"name": "soasTetrols"}, "mark": {"type": "area", "color": "#FFA500", "clip": true},
   "encoding": {"x": {"field": "day", "type": "quantitative", "scale": {"domain": [-2.04, 37.85], "nice": false, "zero": false}, "axis": null}, "y": {"field": "particle", "type": "quantitative", "stack": null, "scale": {"domain": [-25, 1800, 2000, 6390], "range": [263, 62.7, 48.3, 0], "nice": false, "zero": false}, "axis": null}, "detail": {"field": "seg"}}},
  {"data": {"name": "soasTetrols"}, "mark": {"type": "line", "color": "black", "strokeWidth": 1.8, "clip": true},
   "encoding": {"x": {"field": "day", "type": "quantitative", "scale": {"domain": [-2.04, 37.85], "nice": false, "zero": false}, "axis": null}, "y": {"field": "total", "type": "quantitative", "scale": {"domain": [-25, 1800, 2000, 6390], "range": [263, 62.7, 48.3, 0], "nice": false, "zero": false}, "axis": null}, "detail": {"field": "seg"}}},
  {"data": {"name": "soasTetrols"}, "mark": {"type": "line", "color": "black", "strokeWidth": 1.8, "clip": true},
   "encoding": {"x": {"field": "day", "type": "quantitative", "scale": {"domain": [-2.04, 37.85], "nice": false, "zero": false}, "axis": null}, "y": {"field": "particle", "type": "quantitative", "scale": {"domain": [-25, 1800, 2000, 6390], "range": [263, 62.7, 48.3, 0], "nice": false, "zero": false}, "axis": null}, "detail": {"field": "seg"}}},
  {"data": {"values": [{}]}, "mark": {"type": "rect", "color": "white"},
   "encoding": {"x": {"datum": -2.14, "type": "quantitative", "scale": {"domain": [-2.04, 37.85], "nice": false, "zero": false}, "axis": null}, "x2": {"datum": 37.85}, "y": {"datum": 1800, "type": "quantitative", "scale": {"domain": [-25, 1800, 2000, 6390], "range": [263, 62.7, 48.3, 0], "nice": false, "zero": false}, "axis": null}, "y2": {"datum": 2000}}},
  {"data": {"name": "soasDays"}, "mark": {"type": "rect", "color": "#FFFCC8", "clip": true},
   "encoding": {"x": {"field": "rise", "type": "quantitative", "scale": {"domain": [-2.04, 37.85], "nice": false, "zero": false}, "axis": null}, "x2": {"field": "set"}, "y": {"datum": 1800, "type": "quantitative", "scale": {"domain": [-25, 1800, 2000, 6390], "range": [263, 62.7, 48.3, 0], "nice": false, "zero": false}, "axis": null}, "y2": {"datum": 2000}}},
  {"data": {"values": [{}]}, "mark": {"type": "rect", "color": "white"},
   "encoding": {"x": {"datum": -1.36, "type": "quantitative", "scale": {"domain": [-2.04, 37.85], "nice": false, "zero": false}, "axis": null}, "x2": {"datum": 0.08}, "y": {"datum": 2209, "type": "quantitative", "scale": {"domain": [-25, 1800, 2000, 6390], "range": [263, 62.7, 48.3, 0], "nice": false, "zero": false}, "axis": null}, "y2": {"datum": 5572}}},
  {"data": {"values": [{}]}, "mark": {"type": "text", "text": "A.", "fontSize": 29, "fontWeight": "bold", "color": "black", "align": "center", "baseline": "middle"},
   "encoding": {"x": {"datum": -0.59, "type": "quantitative", "scale": {"domain": [-2.04, 37.85], "nice": false, "zero": false}, "axis": null}, "y": {"datum": 3754, "type": "quantitative", "scale": {"domain": [-25, 1800, 2000, 6390], "range": [263, 62.7, 48.3, 0], "nice": false, "zero": false}, "axis": null}}},
  {"data": {"values": [{}]}, "mark": {"type": "rect", "fill": "#FCE4C8", "stroke": "black", "strokeWidth": 2},
   "encoding": {"x": {"datum": 15.32, "type": "quantitative", "scale": {"domain": [-2.04, 37.85], "nice": false, "zero": false}, "axis": null}, "x2": {"datum": 17.77}, "y": {"datum": 1798, "type": "quantitative", "scale": {"domain": [-25, 1800, 2000, 6390], "range": [263, 62.7, 48.3, 0], "nice": false, "zero": false}, "axis": null}, "y2": {"datum": 4300}}},
  {"data": {"values": [{}]}, "mark": {"type": "text", "text": "gas", "fontSize": 24, "color": "black", "align": "center", "baseline": "middle"},
   "encoding": {"x": {"datum": 16.55, "type": "quantitative", "scale": {"domain": [-2.04, 37.85], "nice": false, "zero": false}, "axis": null}, "y": {"datum": 2482, "type": "quantitative", "scale": {"domain": [-25, 1800, 2000, 6390], "range": [263, 62.7, 48.3, 0], "nice": false, "zero": false}, "axis": null}}},
  {"data": {"values": [{}]}, "mark": {"type": "rect", "fill": "#FFA500", "stroke": "black", "strokeWidth": 2},
   "encoding": {"x": {"datum": 14.6, "type": "quantitative", "scale": {"domain": [-2.04, 37.85], "nice": false, "zero": false}, "axis": null}, "x2": {"datum": 18.9}, "y": {"datum": 1242, "type": "quantitative", "scale": {"domain": [-25, 1800, 2000, 6390], "range": [263, 62.7, 48.3, 0], "nice": false, "zero": false}, "axis": null}, "y2": {"datum": 1616}}},
  {"data": {"values": [{}]}, "mark": {"type": "text", "text": "particle", "fontSize": 24, "color": "black", "align": "center", "baseline": "middle"},
   "encoding": {"x": {"datum": 16.77, "type": "quantitative", "scale": {"domain": [-2.04, 37.85], "nice": false, "zero": false}, "axis": null}, "y": {"datum": 1424, "type": "quantitative", "scale": {"domain": [-25, 1800, 2000, 6390], "range": [263, 62.7, 48.3, 0], "nice": false, "zero": false}, "axis": null}}},
  {"data": {"values": [{}]}, "mark": {"type": "rect", "color": "white"},
   "encoding": {"x": {"datum": 29.3, "type": "quantitative", "scale": {"domain": [-2.04, 37.85], "nice": false, "zero": false}, "axis": null}, "x2": {"datum": 35.66}, "y": {"datum": 1572, "type": "quantitative", "scale": {"domain": [-25, 1800, 2000, 6390], "range": [263, 62.7, 48.3, 0], "nice": false, "zero": false}, "axis": null}, "y2": {"datum": 1799}}},
  {"data": {"values": [{}]}, "mark": {"type": "text", "text": "heavy rain event", "fontSize": 17, "color": "black", "align": "center", "baseline": "middle"},
   "encoding": {"x": {"datum": 32.5, "type": "quantitative", "scale": {"domain": [-2.04, 37.85], "nice": false, "zero": false}, "axis": null}, "y": {"datum": 1698, "type": "quantitative", "scale": {"domain": [-25, 1800, 2000, 6390], "range": [263, 62.7, 48.3, 0], "nice": false, "zero": false}, "axis": null}}},
  {"data": {"values": [{}]}, "mark": {"type": "rule", "color": "black", "strokeWidth": 1.8},
   "encoding": {"x": {"datum": 32.03, "type": "quantitative", "scale": {"domain": [-2.04, 37.85], "nice": false, "zero": false}, "axis": null}, "x2": {"datum": 28.03}, "y": {"datum": 1513, "type": "quantitative", "scale": {"domain": [-25, 1800, 2000, 6390], "range": [263, 62.7, 48.3, 0], "nice": false, "zero": false}, "axis": null}, "y2": {"datum": 358}}},
  {"data": {"values": [{}]}, "mark": {"type": "point", "shape": "wedge", "filled": true, "color": "black", "opacity": 1, "size": 90, "angle": 215},
   "encoding": {"x": {"datum": 28.1, "type": "quantitative", "scale": {"domain": [-2.04, 37.85], "nice": false, "zero": false}, "axis": null}, "y": {"datum": 390, "type": "quantitative", "scale": {"domain": [-25, 1800, 2000, 6390], "range": [263, 62.7, 48.3, 0], "nice": false, "zero": false}, "axis": null}}}
 ]
},
{
 "width": 880, "height": 263,
 "resolve": {"axis": {"x": "independent", "y": "independent"}},
 "layer": [
  {"data": {"name": "soasDays"}, "mark": {"type": "rect", "color": "#FFFCC8", "clip": true},
   "encoding": {
    "x": {"field": "rise", "type": "quantitative", "scale": {"domain": [-2.04, 37.85], "nice": false, "zero": false}, "axis": {"orient": "bottom", "values": [0,5,10,15,20,25,30,35], "labelExpr": "timeFormat(datetime(2013, 5, 6 + datum.value), '%b %-d')", "labelFontSize": 26, "labelPadding": 8, "tickSize": 9, "tickWidth": 2, "domain": false, "grid": false, "title": "Local time (2013)", "titleFontSize": 26, "titleX": 422, "titleY": 65, "titleAlign": "center", "titleBaseline": "alphabetic"}},
    "x2": {"field": "set"},
    "y": {"datum": 0, "type": "quantitative", "scale": {"domain": [-0.31, 14.16], "nice": false, "zero": false}, "axis": {"orient": "left", "values": [0,2,4,6,8,10,12,14], "labelFontSize": 20, "labelPadding": 2, "tickSize": 8, "tickWidth": 2, "labelOverlap": false, "domain": false, "grid": false, "title": "AMS", "titleFontSize": 20.5, "titleX": -83.3, "titleY": 235.7, "titleAngle": -90, "titleAlign": "left", "titleBaseline": "alphabetic"}},
    "y2": {"datum": 14}
   }},
  {"data": {"name": "soasSulfate"}, "mark": {"type": "line", "color": "#FF0000", "strokeWidth": 3, "clip": true},
   "encoding": {"x": {"field": "day", "type": "quantitative", "scale": {"domain": [-2.04, 37.85], "nice": false, "zero": false}, "axis": null}, "y": {"field": "conc", "type": "quantitative", "scale": {"domain": [-0.31, 14.16], "nice": false, "zero": false}, "axis": {"orient": "left", "labels": false, "ticks": false, "domain": false, "grid": false, "title": "sulfate", "titleColor": "#FF0000", "titleFontSize": 20.5, "titleX": -83.3, "titleY": 96.7, "titleAngle": -90, "titleAlign": "left", "titleBaseline": "alphabetic"}}, "detail": {"field": "seg"}}},
  {"data": {"name": "soasOrganics"}, "mark": {"type": "line", "color": "#00C000", "strokeWidth": 3, "clip": true},
   "encoding": {"x": {"field": "day", "type": "quantitative", "scale": {"domain": [-2.04, 37.85], "nice": false, "zero": false}, "axis": null}, "y": {"field": "conc", "type": "quantitative", "scale": {"domain": [-0.31, 14.16], "nice": false, "zero": false}, "axis": {"orient": "left", "labels": false, "ticks": false, "domain": false, "grid": false, "title": "organics", "titleColor": "#00C000", "titleFontSize": 20.5, "titleX": -83.3, "titleY": 185.6, "titleAngle": -90, "titleAlign": "left", "titleBaseline": "alphabetic"}}, "detail": {"field": "seg"}}},
  {"data": {"values": [{}]}, "mark": {"type": "rect", "color": "white"},
   "encoding": {"x": {"datum": -1.36, "type": "quantitative", "scale": {"domain": [-2.04, 37.85], "nice": false, "zero": false}, "axis": null}, "x2": {"datum": 0.08}, "y": {"datum": 11.6, "type": "quantitative", "scale": {"domain": [-0.31, 14.16], "nice": false, "zero": false}, "axis": null}, "y2": {"datum": 13.2}}},
  {"data": {"values": [{}]}, "mark": {"type": "text", "text": "B.", "fontSize": 29, "fontWeight": "bold", "color": "black", "align": "center", "baseline": "middle"},
   "encoding": {"x": {"datum": -0.59, "type": "quantitative", "scale": {"domain": [-2.04, 37.85], "nice": false, "zero": false}, "axis": null}, "y": {"datum": 12.51, "type": "quantitative", "scale": {"domain": [-0.31, 14.16], "nice": false, "zero": false}, "axis": {"orient": "left", "labels": false, "ticks": false, "domain": false, "grid": false, "title": ",", "titleFontSize": 20.5, "titleX": -83.3, "titleY": 108.1, "titleAngle": -90, "titleAlign": "left", "titleBaseline": "alphabetic"}}}},
  {"data": {"values": [{}]}, "mark": {"type": "rect", "color": "white"},
   "encoding": {"x": {"datum": 1.44, "type": "quantitative", "scale": {"domain": [-2.04, 37.85], "nice": false, "zero": false}, "axis": null}, "x2": {"datum": 3.93}, "y": {"datum": 6.89, "type": "quantitative", "scale": {"domain": [-0.31, 14.16], "nice": false, "zero": false}, "axis": null}, "y2": {"datum": 9.26}}},
  {"data": {"values": [{}]}, "mark": {"type": "text", "text": "x 2", "fontSize": 38, "color": "#FF0000", "align": "center", "baseline": "middle"},
   "encoding": {"x": {"datum": 2.63, "type": "quantitative", "scale": {"domain": [-2.04, 37.85], "nice": false, "zero": false}, "axis": null}, "y": {"datum": 7.94, "type": "quantitative", "scale": {"domain": [-0.31, 14.16], "nice": false, "zero": false}, "axis": {"orient": "left", "labels": false, "ticks": false, "domain": false, "grid": false, "title": "(µg m⁻³)", "titleFontSize": 20.5, "titleX": -53, "titleY": 134, "titleAngle": -90, "titleAlign": "center", "titleBaseline": "alphabetic"}}}}
 ]
},
{"width": 880, "height": 96, "data": {"values": []}, "mark": "rect", "encoding": {}, "view": {"stroke": null}},
{
 "width": 880, "height": 263,
 "title": {"text": "GoAmazon", "fontSize": 31, "fontWeight": "bold", "offset": -18, "baseline": "alphabetic", "dx": -12, "anchor": "middle"},
 "resolve": {"axis": {"x": "independent", "y": "independent"}},
 "layer": [
  {"data": {"name": "goaDays"}, "mark": {"type": "rect", "color": "#FFFCC8", "clip": true},
   "encoding": {
    "x": {"field": "rise", "type": "quantitative", "scale": {"domain": [-1.17, 37.33], "nice": false, "zero": false}, "axis": {"orient": "bottom", "values": [0,5,10,15,20,25,30,35], "labels": false, "tickSize": 8, "tickWidth": 2, "title": null, "domain": false, "grid": false}},
    "x2": {"field": "set"},
    "y": {"datum": 0, "type": "quantitative", "scale": {"domain": [-6.8, 680], "nice": false, "zero": false}, "axis": {"orient": "left", "values": [0,100,200,300,400,500,600], "labelFontSize": 21, "labelPadding": 1, "tickSize": 8, "tickWidth": 2, "labelOverlap": false, "domain": false, "grid": false, "title": "Σ 2-methyltetrols (ng m⁻³)", "titleFontSize": 20.5, "titleX": -67, "titleY": 135, "titleAngle": -90, "titleAlign": "center", "titleBaseline": "alphabetic"}},
    "y2": {"datum": 672}
   }},
  {"data": {"name": "goaTotal"}, "mark": {"type": "area", "color": "#FFC0C0", "clip": true},
   "encoding": {"x": {"field": "day", "type": "quantitative", "scale": {"domain": [-1.17, 37.33], "nice": false, "zero": false}, "axis": {"orient": "bottom", "values": [-1,0,1,2,3,4,5,6,7,8,9,10,11,12,13,14,15,16,17,18,19,20,21,22,23,24,25,26,27,28,29,30,31,32,33,34,35,36,37], "labels": false, "tickSize": 5, "tickWidth": 2, "title": null, "domain": false, "grid": false}}, "y": {"field": "conc", "type": "quantitative", "stack": null, "scale": {"domain": [-6.8, 680], "nice": false, "zero": false}, "axis": null}, "detail": {"field": "seg"}}},
  {"data": {"name": "goaParticle"}, "mark": {"type": "area", "color": "#FF0000", "clip": true},
   "encoding": {"x": {"field": "day", "type": "quantitative", "scale": {"domain": [-1.17, 37.33], "nice": false, "zero": false}, "axis": null}, "y": {"field": "conc", "type": "quantitative", "stack": null, "scale": {"domain": [-6.8, 680], "nice": false, "zero": false}, "axis": null}, "detail": {"field": "seg"}}},
  {"data": {"name": "goaTotal"}, "mark": {"type": "line", "color": "black", "strokeWidth": 1.8, "clip": true},
   "encoding": {"x": {"field": "day", "type": "quantitative", "scale": {"domain": [-1.17, 37.33], "nice": false, "zero": false}, "axis": null}, "y": {"field": "conc", "type": "quantitative", "scale": {"domain": [-6.8, 680], "nice": false, "zero": false}, "axis": null}, "detail": {"field": "seg"}}},
  {"data": {"name": "goaParticle"}, "mark": {"type": "line", "color": "black", "strokeWidth": 1.8, "clip": true},
   "encoding": {"x": {"field": "day", "type": "quantitative", "scale": {"domain": [-1.17, 37.33], "nice": false, "zero": false}, "axis": null}, "y": {"field": "conc", "type": "quantitative", "scale": {"domain": [-6.8, 680], "nice": false, "zero": false}, "axis": null}, "detail": {"field": "seg"}}},
  {"data": {"values": [{}]}, "mark": {"type": "rect", "color": "white"},
   "encoding": {"x": {"datum": -0.44, "type": "quantitative", "scale": {"domain": [-1.17, 37.33], "nice": false, "zero": false}, "axis": null}, "x2": {"datum": 0.87}, "y": {"datum": 563, "type": "quantitative", "scale": {"domain": [-6.8, 680], "nice": false, "zero": false}, "axis": null}, "y2": {"datum": 660}}},
  {"data": {"values": [{}]}, "mark": {"type": "text", "text": "C.", "fontSize": 29, "fontWeight": "bold", "color": "black", "align": "center", "baseline": "middle"},
   "encoding": {"x": {"datum": 0.23, "type": "quantitative", "scale": {"domain": [-1.17, 37.33], "nice": false, "zero": false}, "axis": null}, "y": {"datum": 602, "type": "quantitative", "scale": {"domain": [-6.8, 680], "nice": false, "zero": false}, "axis": null}}},
  {"data": {"values": [{}]}, "mark": {"type": "rect", "fill": "#FFC0C0", "stroke": "black", "strokeWidth": 2},
   "encoding": {"x": {"datum": 3.64, "type": "quantitative", "scale": {"domain": [-1.17, 37.33], "nice": false, "zero": false}, "axis": null}, "x2": {"datum": 5.71}, "y": {"datum": 511, "type": "quantitative", "scale": {"domain": [-6.8, 680], "nice": false, "zero": false}, "axis": null}, "y2": {"datum": 615}}},
  {"data": {"values": [{}]}, "mark": {"type": "text", "text": "gas", "fontSize": 20, "color": "black", "align": "center", "baseline": "middle"},
   "encoding": {"x": {"datum": 4.67, "type": "quantitative", "scale": {"domain": [-1.17, 37.33], "nice": false, "zero": false}, "axis": null}, "y": {"datum": 563, "type": "quantitative", "scale": {"domain": [-6.8, 680], "nice": false, "zero": false}, "axis": null}}},
  {"data": {"values": [{}]}, "mark": {"type": "rect", "fill": "#FF0000", "stroke": "black", "strokeWidth": 2},
   "encoding": {"x": {"datum": 3.06, "type": "quantitative", "scale": {"domain": [-1.17, 37.33], "nice": false, "zero": false}, "axis": null}, "x2": {"datum": 6.74}, "y": {"datum": 363, "type": "quantitative", "scale": {"domain": [-6.8, 680], "nice": false, "zero": false}, "axis": null}, "y2": {"datum": 463}}},
  {"data": {"values": [{}]}, "mark": {"type": "text", "text": "particle", "fontSize": 20, "color": "black", "align": "center", "baseline": "middle"},
   "encoding": {"x": {"datum": 4.9, "type": "quantitative", "scale": {"domain": [-1.17, 37.33], "nice": false, "zero": false}, "axis": null}, "y": {"datum": 413, "type": "quantitative", "scale": {"domain": [-6.8, 680], "nice": false, "zero": false}, "axis": null}}},
  {"data": {"values": [{}]}, "mark": {"type": "rect", "color": "white"},
   "encoding": {"x": {"datum": 24.2, "type": "quantitative", "scale": {"domain": [-1.17, 37.33], "nice": false, "zero": false}, "axis": null}, "x2": {"datum": 30.2}, "y": {"datum": 589, "type": "quantitative", "scale": {"domain": [-6.8, 680], "nice": false, "zero": false}, "axis": null}, "y2": {"datum": 636}}},
  {"data": {"values": [{}]}, "mark": {"type": "text", "text": "heavy rain event", "fontSize": 17, "color": "black", "align": "center", "baseline": "middle"},
   "encoding": {"x": {"datum": 27.27, "type": "quantitative", "scale": {"domain": [-1.17, 37.33], "nice": false, "zero": false}, "axis": null}, "y": {"datum": 613, "type": "quantitative", "scale": {"domain": [-6.8, 680], "nice": false, "zero": false}, "axis": null}}},
  {"data": {"values": [{}]}, "mark": {"type": "rule", "color": "black", "strokeWidth": 1.8},
   "encoding": {"x": {"datum": 25.74, "type": "quantitative", "scale": {"domain": [-1.17, 37.33], "nice": false, "zero": false}, "axis": null}, "x2": {"datum": 20.19}, "y": {"datum": 557, "type": "quantitative", "scale": {"domain": [-6.8, 680], "nice": false, "zero": false}, "axis": null}, "y2": {"datum": 204}}},
  {"data": {"values": [{}]}, "mark": {"type": "point", "shape": "wedge", "filled": true, "color": "black", "opacity": 1, "size": 90, "angle": 223},
   "encoding": {"x": {"datum": 20.29, "type": "quantitative", "scale": {"domain": [-1.17, 37.33], "nice": false, "zero": false}, "axis": null}, "y": {"datum": 214, "type": "quantitative", "scale": {"domain": [-6.8, 680], "nice": false, "zero": false}, "axis": null}}},
  {"data": {"values": [{}]}, "mark": {"type": "rule", "color": "black", "strokeWidth": 1.8},
   "encoding": {"x": {"datum": 26.97, "type": "quantitative", "scale": {"domain": [-1.17, 37.33], "nice": false, "zero": false}, "axis": null}, "x2": {"datum": 24.38}, "y": {"datum": 528, "type": "quantitative", "scale": {"domain": [-6.8, 680], "nice": false, "zero": false}, "axis": null}, "y2": {"datum": 204}}},
  {"data": {"values": [{}]}, "mark": {"type": "point", "shape": "wedge", "filled": true, "color": "black", "opacity": 1, "size": 90, "angle": 205},
   "encoding": {"x": {"datum": 24.44, "type": "quantitative", "scale": {"domain": [-1.17, 37.33], "nice": false, "zero": false}, "axis": null}, "y": {"datum": 216, "type": "quantitative", "scale": {"domain": [-6.8, 680], "nice": false, "zero": false}, "axis": null}}}
 ]
},
{
 "width": 880, "height": 254,
 "resolve": {"axis": {"x": "independent", "y": "independent"}},
 "layer": [
  {"data": {"name": "goaDays"}, "mark": {"type": "rect", "color": "#FFFCC8", "clip": true},
   "encoding": {
    "x": {"field": "rise", "type": "quantitative", "scale": {"domain": [-1.17, 37.33], "nice": false, "zero": false}, "axis": {"orient": "bottom", "values": [0,5,10,15,20,25,30,35], "labelExpr": "timeFormat(datetime(2014, 1, 16 + datum.value), '%b %-d')", "labelFontSize": 26, "labelPadding": 11, "tickSize": 16, "tickWidth": 2, "domain": false, "grid": false, "title": "Local time (2014)", "titleFontSize": 26, "titleX": 444, "titleY": 78, "titleAlign": "center", "titleBaseline": "alphabetic"}},
    "x2": {"field": "set"},
    "y": {"datum": 0, "type": "quantitative", "scale": {"domain": [-0.08, 4.456], "nice": false, "zero": false}, "axis": {"orient": "left", "values": [0,1,2,3,4], "labelFontSize": 21, "labelPadding": 5, "tickSize": 15, "tickWidth": 2, "labelOverlap": false, "domain": false, "grid": false, "title": "AMS", "titleFontSize": 20.5, "titleX": -59, "titleY": 300, "titleAngle": -90, "titleAlign": "left", "titleBaseline": "alphabetic"}},
    "y2": {"datum": 4.3}
   }},
  {"data": {"name": "goaOrganics"}, "mark": {"type": "line", "color": "#00C000", "strokeWidth": 3, "clip": true},
   "encoding": {"x": {"field": "day", "type": "quantitative", "scale": {"domain": [-1.17, 37.33], "nice": false, "zero": false}, "axis": {"orient": "bottom", "values": [-1,0,1,2,3,4,5,6,7,8,9,10,11,12,13,14,15,16,17,18,19,20,21,22,23,24,25,26,27,28,29,30,31,32,33,34,35,36,37], "labels": false, "tickSize": 9, "tickWidth": 2, "title": null, "domain": false, "grid": false}}, "y": {"field": "conc", "type": "quantitative", "scale": {"domain": [-0.08, 4.456], "nice": false, "zero": false}, "axis": {"orient": "left", "labels": false, "ticks": false, "domain": false, "grid": false, "title": "organics", "titleColor": "#00C000", "titleFontSize": 20.5, "titleX": -59, "titleY": 249.9, "titleAngle": -90, "titleAlign": "left", "titleBaseline": "alphabetic"}}, "detail": {"field": "seg"}}},
  {"data": {"name": "goaSulfate"}, "mark": {"type": "line", "color": "#FF0000", "strokeWidth": 3, "clip": true},
   "encoding": {"x": {"field": "day", "type": "quantitative", "scale": {"domain": [-1.17, 37.33], "nice": false, "zero": false}, "axis": null}, "y": {"field": "conc", "type": "quantitative", "scale": {"domain": [-0.08, 4.456], "nice": false, "zero": false}, "axis": {"orient": "left", "labels": false, "ticks": false, "domain": false, "grid": false, "title": "sulfate", "titleColor": "#FF0000", "titleFontSize": 20.5, "titleX": -59, "titleY": 161, "titleAngle": -90, "titleAlign": "left", "titleBaseline": "alphabetic"}}, "detail": {"field": "seg"}}},
  {"data": {"values": [{}]}, "mark": {"type": "rect", "color": "white"},
   "encoding": {"x": {"datum": -0.82, "type": "quantitative", "scale": {"domain": [-1.17, 37.33], "nice": false, "zero": false}, "axis": null}, "x2": {"datum": 1.02}, "y": {"datum": 3.65, "type": "quantitative", "scale": {"domain": [-0.08, 4.456], "nice": false, "zero": false}, "axis": null}, "y2": {"datum": 4.15}}},
  {"data": {"values": [{}]}, "mark": {"type": "text", "text": "D.", "fontSize": 29, "fontWeight": "bold", "color": "black", "align": "center", "baseline": "middle"},
   "encoding": {"x": {"datum": 0.28, "type": "quantitative", "scale": {"domain": [-1.17, 37.33], "nice": false, "zero": false}, "axis": null}, "y": {"datum": 3.92, "type": "quantitative", "scale": {"domain": [-0.08, 4.456], "nice": false, "zero": false}, "axis": {"orient": "left", "labels": false, "ticks": false, "domain": false, "grid": false, "title": ",", "titleFontSize": 20.5, "titleX": -59, "titleY": 172.4, "titleAngle": -90, "titleAlign": "left", "titleBaseline": "alphabetic"}}}},
  {"data": {"values": [{}]}, "mark": {"type": "rect", "color": "white"},
   "encoding": {"x": {"datum": -0.82, "type": "quantitative", "scale": {"domain": [-1.17, 37.33], "nice": false, "zero": false}, "axis": null}, "x2": {"datum": 1.68}, "y": {"datum": 2.77, "type": "quantitative", "scale": {"domain": [-0.08, 4.456], "nice": false, "zero": false}, "axis": null}, "y2": {"datum": 3.58}}},
  {"data": {"values": [{}]}, "mark": {"type": "text", "text": "x 3", "fontSize": 38, "color": "#FF0000", "align": "center", "baseline": "middle"},
   "encoding": {"x": {"datum": 0.45, "type": "quantitative", "scale": {"domain": [-1.17, 37.33], "nice": false, "zero": false}, "axis": null}, "y": {"datum": 3.17, "type": "quantitative", "scale": {"domain": [-0.08, 4.456], "nice": false, "zero": false}, "axis": {"orient": "left", "labels": false, "ticks": false, "domain": false, "grid": false, "title": "(µg m⁻³)", "titleFontSize": 20.5, "titleX": -59, "titleY": 94.9, "titleAngle": -90, "titleAlign": "left", "titleBaseline": "alphabetic"}}}}
 ]
}
],
"spacing": 30,
"bounds": "flush"
}
